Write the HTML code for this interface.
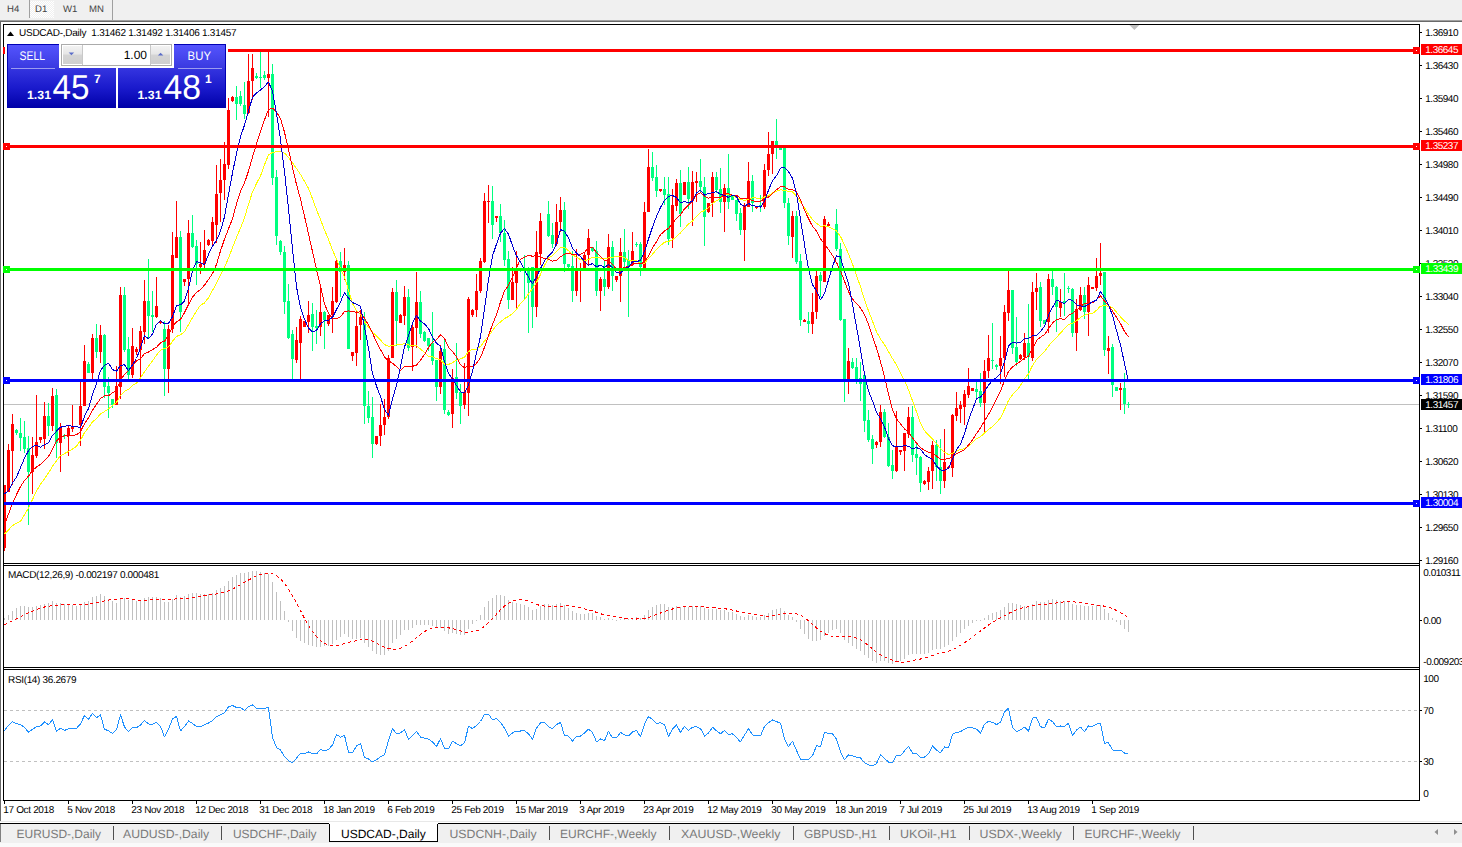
<!DOCTYPE html>
<html><head><meta charset="utf-8"><title>USDCAD-,Daily</title>
<style>
html,body{margin:0;padding:0;background:#fff;overflow:hidden;}
body{width:1462px;height:847px;font-family:"Liberation Sans",sans-serif;}
svg{display:block;}
</style></head><body>
<svg width="1462" height="847" viewBox="0 0 1462 847" font-family="'Liberation Sans', sans-serif" shape-rendering="crispEdges" text-rendering="geometricPrecision">
<defs>
<linearGradient id="gbtn" x1="0" y1="0" x2="0" y2="1"><stop offset="0" stop-color="#5555ff"/><stop offset="1" stop-color="#3a3ae0"/></linearGradient>
<linearGradient id="gprice" x1="0" y1="0" x2="0" y2="1"><stop offset="0" stop-color="#3535e0"/><stop offset="0.5" stop-color="#1a1acc"/><stop offset="1" stop-color="#0000a8"/></linearGradient>
<linearGradient id="gspin" x1="0" y1="0" x2="0" y2="1"><stop offset="0" stop-color="#f2f2f2"/><stop offset="0.45" stop-color="#e6e6e6"/><stop offset="0.5" stop-color="#d4d4d4"/><stop offset="1" stop-color="#cfcfcf"/></linearGradient>
<pattern id="dots" width="2" height="2" patternUnits="userSpaceOnUse"><rect width="2" height="2" fill="#f0f0f0"/><rect width="1" height="1" fill="#ffffff"/><rect x="1" y="1" width="1" height="1" fill="#ffffff"/></pattern>
<clipPath id="cmain"><rect x="4" y="25" width="1415" height="538"/></clipPath>
</defs>
<rect x="0" y="0" width="1462" height="847" fill="#ffffff" />
<rect x="0" y="0" width="1462" height="20" fill="#f0f0f0" />
<rect x="0" y="20" width="1462" height="1" fill="#a0a0a0" />
<rect x="0" y="21" width="1462" height="1" fill="#696969" />
<rect x="30" y="1" width="24" height="17" fill="url(#dots)" />
<rect x="29" y="0" width="1" height="18" fill="#a0a0a0" />
<rect x="112" y="0" width="1" height="20" fill="#a0a0a0" />
<text x="7" y="12" font-size="9.6" fill="#444" text-anchor="start" font-weight="normal" >H4</text>
<text x="35" y="12" font-size="9.6" fill="#444" text-anchor="start" font-weight="normal" >D1</text>
<text x="63" y="12" font-size="9.6" fill="#444" text-anchor="start" font-weight="normal" >W1</text>
<text x="89" y="12" font-size="9.6" fill="#444" text-anchor="start" font-weight="normal" >MN</text>
<rect x="0" y="22" width="1" height="799" fill="#696969" />
<rect x="3" y="24" width="1417" height="1" fill="#000" />
<rect x="3" y="24" width="1" height="777" fill="#000" />
<rect x="1419" y="24" width="1" height="777" fill="#000" />
<rect x="3" y="563" width="1417" height="1" fill="#000" />
<rect x="3" y="565" width="1417" height="1" fill="#000" />
<rect x="3" y="667" width="1417" height="1" fill="#000" />
<rect x="3" y="669" width="1417" height="1" fill="#000" />
<rect x="3" y="800" width="1417" height="1" fill="#000" />
<rect x="4" y="564" width="1415" height="1" fill="#fff" />
<rect x="4" y="668" width="1415" height="1" fill="#fff" />
<polygon points="1129.4,25 1139.4,25 1134.4,30" fill="#c0c0c0" shape-rendering="auto"/>
<rect x="1420" y="32" width="2" height="1" fill="#000" />
<text x="1425.3" y="36" font-size="10" fill="#000" text-anchor="start" font-weight="normal" letter-spacing="-0.5" >1.36910</text>
<rect x="1420" y="65" width="2" height="1" fill="#000" />
<text x="1425.3" y="69" font-size="10" fill="#000" text-anchor="start" font-weight="normal" letter-spacing="-0.5" >1.36430</text>
<rect x="1420" y="98" width="2" height="1" fill="#000" />
<text x="1425.3" y="102" font-size="10" fill="#000" text-anchor="start" font-weight="normal" letter-spacing="-0.5" >1.35940</text>
<rect x="1420" y="131" width="2" height="1" fill="#000" />
<text x="1425.3" y="135" font-size="10" fill="#000" text-anchor="start" font-weight="normal" letter-spacing="-0.5" >1.35460</text>
<rect x="1420" y="164" width="2" height="1" fill="#000" />
<text x="1425.3" y="168" font-size="10" fill="#000" text-anchor="start" font-weight="normal" letter-spacing="-0.5" >1.34980</text>
<rect x="1420" y="197" width="2" height="1" fill="#000" />
<text x="1425.3" y="201" font-size="10" fill="#000" text-anchor="start" font-weight="normal" letter-spacing="-0.5" >1.34490</text>
<rect x="1420" y="230" width="2" height="1" fill="#000" />
<text x="1425.3" y="234" font-size="10" fill="#000" text-anchor="start" font-weight="normal" letter-spacing="-0.5" >1.34010</text>
<rect x="1420" y="263" width="2" height="1" fill="#000" />
<text x="1425.3" y="267" font-size="10" fill="#000" text-anchor="start" font-weight="normal" letter-spacing="-0.5" >1.33520</text>
<rect x="1420" y="296" width="2" height="1" fill="#000" />
<text x="1425.3" y="300" font-size="10" fill="#000" text-anchor="start" font-weight="normal" letter-spacing="-0.5" >1.33040</text>
<rect x="1420" y="329" width="2" height="1" fill="#000" />
<text x="1425.3" y="333" font-size="10" fill="#000" text-anchor="start" font-weight="normal" letter-spacing="-0.5" >1.32550</text>
<rect x="1420" y="362" width="2" height="1" fill="#000" />
<text x="1425.3" y="366" font-size="10" fill="#000" text-anchor="start" font-weight="normal" letter-spacing="-0.5" >1.32070</text>
<rect x="1420" y="395" width="2" height="1" fill="#000" />
<text x="1425.3" y="399" font-size="10" fill="#000" text-anchor="start" font-weight="normal" letter-spacing="-0.5" >1.31590</text>
<rect x="1420" y="428" width="2" height="1" fill="#000" />
<text x="1425.3" y="432" font-size="10" fill="#000" text-anchor="start" font-weight="normal" letter-spacing="-0.5" >1.31100</text>
<rect x="1420" y="461" width="2" height="1" fill="#000" />
<text x="1425.3" y="465" font-size="10" fill="#000" text-anchor="start" font-weight="normal" letter-spacing="-0.5" >1.30620</text>
<rect x="1420" y="494" width="2" height="1" fill="#000" />
<text x="1425.3" y="498" font-size="10" fill="#000" text-anchor="start" font-weight="normal" letter-spacing="-0.5" >1.30130</text>
<rect x="1420" y="527" width="2" height="1" fill="#000" />
<text x="1425.3" y="531" font-size="10" fill="#000" text-anchor="start" font-weight="normal" letter-spacing="-0.5" >1.29650</text>
<rect x="1420" y="560" width="2" height="1" fill="#000" />
<text x="1425.3" y="564" font-size="10" fill="#000" text-anchor="start" font-weight="normal" letter-spacing="-0.5" >1.29160</text>
<rect x="4" y="404" width="1415" height="1" fill="#c0c0c0" />
<g clip-path="url(#cmain)">
<rect x="4" y="485" width="1" height="66" fill="#ff0000"/>
<rect x="3" y="485" width="3" height="63" fill="#ff0000"/>
<rect x="8" y="444" width="1" height="48" fill="#ff0000"/>
<rect x="7" y="450" width="3" height="42" fill="#ff0000"/>
<rect x="12" y="414" width="1" height="71" fill="#ff0000"/>
<rect x="11" y="424" width="3" height="27" fill="#ff0000"/>
<rect x="16" y="429" width="1" height="6" fill="#00ff7f"/>
<rect x="15" y="430" width="3" height="3" fill="#00ff7f"/>
<rect x="20" y="418" width="1" height="33" fill="#00ff7f"/>
<rect x="19" y="433" width="3" height="5" fill="#00ff7f"/>
<rect x="24" y="421" width="1" height="32" fill="#00ff7f"/>
<rect x="23" y="437" width="3" height="12" fill="#00ff7f"/>
<rect x="28" y="436" width="1" height="89" fill="#00ff7f"/>
<rect x="27" y="448" width="3" height="24" fill="#00ff7f"/>
<rect x="32" y="437" width="1" height="57" fill="#ff0000"/>
<rect x="31" y="455" width="3" height="17" fill="#ff0000"/>
<rect x="36" y="395" width="1" height="63" fill="#ff0000"/>
<rect x="35" y="442" width="3" height="14" fill="#ff0000"/>
<rect x="40" y="437" width="1" height="6" fill="#ff0000"/>
<rect x="39" y="437" width="3" height="3" fill="#ff0000"/>
<rect x="44" y="402" width="1" height="47" fill="#ff0000"/>
<rect x="43" y="416" width="3" height="23" fill="#ff0000"/>
<rect x="48" y="403" width="1" height="33" fill="#00ff7f"/>
<rect x="47" y="416" width="3" height="10" fill="#00ff7f"/>
<rect x="52" y="388" width="1" height="43" fill="#ff0000"/>
<rect x="51" y="396" width="3" height="30" fill="#ff0000"/>
<rect x="56" y="389" width="1" height="69" fill="#00ff7f"/>
<rect x="55" y="395" width="3" height="48" fill="#00ff7f"/>
<rect x="60" y="423" width="1" height="49" fill="#ff0000"/>
<rect x="59" y="427" width="3" height="16" fill="#ff0000"/>
<rect x="64" y="434" width="1" height="5" fill="#00ff7f"/>
<rect x="63" y="435" width="3" height="1" fill="#00ff7f"/>
<rect x="68" y="425" width="1" height="31" fill="#ff0000"/>
<rect x="67" y="428" width="3" height="8" fill="#ff0000"/>
<rect x="72" y="405" width="1" height="27" fill="#ff0000"/>
<rect x="71" y="426" width="3" height="3" fill="#ff0000"/>
<rect x="76" y="426" width="1" height="1" fill="#ff0000"/>
<rect x="75" y="426" width="3" height="1" fill="#ff0000"/>
<rect x="80" y="380" width="1" height="66" fill="#ff0000"/>
<rect x="79" y="406" width="3" height="19" fill="#ff0000"/>
<rect x="84" y="345" width="1" height="61" fill="#ff0000"/>
<rect x="83" y="361" width="3" height="45" fill="#ff0000"/>
<rect x="88" y="362" width="1" height="11" fill="#00ff7f"/>
<rect x="87" y="364" width="3" height="9" fill="#00ff7f"/>
<rect x="92" y="334" width="1" height="45" fill="#ff0000"/>
<rect x="91" y="338" width="3" height="35" fill="#ff0000"/>
<rect x="96" y="324" width="1" height="34" fill="#00ff7f"/>
<rect x="95" y="338" width="3" height="14" fill="#00ff7f"/>
<rect x="100" y="325" width="1" height="38" fill="#ff0000"/>
<rect x="99" y="335" width="3" height="17" fill="#ff0000"/>
<rect x="104" y="334" width="1" height="64" fill="#00ff7f"/>
<rect x="103" y="335" width="3" height="52" fill="#00ff7f"/>
<rect x="108" y="377" width="1" height="41" fill="#00ff7f"/>
<rect x="107" y="386" width="3" height="7" fill="#00ff7f"/>
<rect x="112" y="399" width="1" height="9" fill="#00ff7f"/>
<rect x="111" y="399" width="3" height="6" fill="#00ff7f"/>
<rect x="116" y="366" width="1" height="39" fill="#ff0000"/>
<rect x="115" y="386" width="3" height="19" fill="#ff0000"/>
<rect x="120" y="287" width="1" height="112" fill="#ff0000"/>
<rect x="119" y="295" width="3" height="92" fill="#ff0000"/>
<rect x="124" y="287" width="1" height="65" fill="#00ff7f"/>
<rect x="123" y="295" width="3" height="55" fill="#00ff7f"/>
<rect x="128" y="337" width="1" height="42" fill="#00ff7f"/>
<rect x="127" y="349" width="3" height="26" fill="#00ff7f"/>
<rect x="132" y="328" width="1" height="50" fill="#ff0000"/>
<rect x="131" y="346" width="3" height="29" fill="#ff0000"/>
<rect x="136" y="347" width="1" height="8" fill="#ff0000"/>
<rect x="135" y="349" width="3" height="3" fill="#ff0000"/>
<rect x="140" y="326" width="1" height="53" fill="#ff0000"/>
<rect x="139" y="331" width="3" height="19" fill="#ff0000"/>
<rect x="144" y="280" width="1" height="64" fill="#ff0000"/>
<rect x="143" y="301" width="3" height="31" fill="#ff0000"/>
<rect x="148" y="259" width="1" height="80" fill="#00ff7f"/>
<rect x="147" y="301" width="3" height="15" fill="#00ff7f"/>
<rect x="152" y="291" width="1" height="41" fill="#00ff7f"/>
<rect x="151" y="315" width="3" height="2" fill="#00ff7f"/>
<rect x="156" y="277" width="1" height="41" fill="#ff0000"/>
<rect x="155" y="306" width="3" height="11" fill="#ff0000"/>
<rect x="160" y="321" width="1" height="3" fill="#ff0000"/>
<rect x="159" y="322" width="3" height="1" fill="#ff0000"/>
<rect x="164" y="321" width="1" height="75" fill="#00ff7f"/>
<rect x="163" y="329" width="3" height="40" fill="#00ff7f"/>
<rect x="168" y="325" width="1" height="68" fill="#ff0000"/>
<rect x="167" y="329" width="3" height="40" fill="#ff0000"/>
<rect x="172" y="232" width="1" height="101" fill="#ff0000"/>
<rect x="171" y="255" width="3" height="74" fill="#ff0000"/>
<rect x="176" y="201" width="1" height="57" fill="#ff0000"/>
<rect x="175" y="237" width="3" height="21" fill="#ff0000"/>
<rect x="180" y="231" width="1" height="101" fill="#00ff7f"/>
<rect x="179" y="237" width="3" height="75" fill="#00ff7f"/>
<rect x="184" y="279" width="1" height="7" fill="#ff0000"/>
<rect x="183" y="279" width="3" height="3" fill="#ff0000"/>
<rect x="188" y="220" width="1" height="85" fill="#ff0000"/>
<rect x="187" y="233" width="3" height="46" fill="#ff0000"/>
<rect x="192" y="215" width="1" height="33" fill="#00ff7f"/>
<rect x="191" y="233" width="3" height="14" fill="#00ff7f"/>
<rect x="196" y="240" width="1" height="45" fill="#00ff7f"/>
<rect x="195" y="246" width="3" height="18" fill="#00ff7f"/>
<rect x="200" y="242" width="1" height="32" fill="#ff0000"/>
<rect x="199" y="264" width="3" height="3" fill="#ff0000"/>
<rect x="204" y="230" width="1" height="38" fill="#ff0000"/>
<rect x="203" y="250" width="3" height="14" fill="#ff0000"/>
<rect x="208" y="239" width="1" height="7" fill="#ff0000"/>
<rect x="207" y="240" width="3" height="5" fill="#ff0000"/>
<rect x="212" y="217" width="1" height="29" fill="#ff0000"/>
<rect x="211" y="222" width="3" height="19" fill="#ff0000"/>
<rect x="216" y="165" width="1" height="78" fill="#ff0000"/>
<rect x="215" y="194" width="3" height="31" fill="#ff0000"/>
<rect x="220" y="159" width="1" height="63" fill="#ff0000"/>
<rect x="219" y="180" width="3" height="13" fill="#ff0000"/>
<rect x="224" y="142" width="1" height="58" fill="#ff0000"/>
<rect x="223" y="164" width="3" height="16" fill="#ff0000"/>
<rect x="228" y="98" width="1" height="71" fill="#ff0000"/>
<rect x="227" y="110" width="3" height="55" fill="#ff0000"/>
<rect x="232" y="96" width="1" height="6" fill="#ff0000"/>
<rect x="231" y="97" width="3" height="4" fill="#ff0000"/>
<rect x="236" y="86" width="1" height="34" fill="#00ff7f"/>
<rect x="235" y="97" width="3" height="7" fill="#00ff7f"/>
<rect x="240" y="91" width="1" height="15" fill="#00ff7f"/>
<rect x="239" y="96" width="3" height="8" fill="#00ff7f"/>
<rect x="244" y="82" width="1" height="37" fill="#00ff7f"/>
<rect x="243" y="105" width="3" height="9" fill="#00ff7f"/>
<rect x="248" y="54" width="1" height="60" fill="#ff0000"/>
<rect x="247" y="81" width="3" height="32" fill="#ff0000"/>
<rect x="252" y="54" width="1" height="46" fill="#ff0000"/>
<rect x="251" y="68" width="3" height="13" fill="#ff0000"/>
<rect x="256" y="73" width="1" height="6" fill="#00ff7f"/>
<rect x="255" y="76" width="3" height="2" fill="#00ff7f"/>
<rect x="260" y="52" width="1" height="36" fill="#00ff7f"/>
<rect x="259" y="77" width="3" height="1" fill="#00ff7f"/>
<rect x="264" y="71" width="1" height="9" fill="#00ff7f"/>
<rect x="263" y="75" width="3" height="3" fill="#00ff7f"/>
<rect x="268" y="52" width="1" height="65" fill="#ff0000"/>
<rect x="267" y="74" width="3" height="4" fill="#ff0000"/>
<rect x="272" y="64" width="1" height="121" fill="#00ff7f"/>
<rect x="271" y="74" width="3" height="104" fill="#00ff7f"/>
<rect x="276" y="170" width="1" height="75" fill="#00ff7f"/>
<rect x="275" y="177" width="3" height="59" fill="#00ff7f"/>
<rect x="280" y="240" width="1" height="15" fill="#00ff7f"/>
<rect x="279" y="241" width="3" height="11" fill="#00ff7f"/>
<rect x="284" y="246" width="1" height="68" fill="#00ff7f"/>
<rect x="283" y="252" width="3" height="50" fill="#00ff7f"/>
<rect x="288" y="284" width="1" height="55" fill="#00ff7f"/>
<rect x="287" y="301" width="3" height="37" fill="#00ff7f"/>
<rect x="292" y="330" width="1" height="49" fill="#00ff7f"/>
<rect x="291" y="334" width="3" height="25" fill="#00ff7f"/>
<rect x="296" y="327" width="1" height="36" fill="#ff0000"/>
<rect x="295" y="340" width="3" height="20" fill="#ff0000"/>
<rect x="300" y="316" width="1" height="63" fill="#ff0000"/>
<rect x="299" y="319" width="3" height="24" fill="#ff0000"/>
<rect x="304" y="321" width="1" height="6" fill="#ff0000"/>
<rect x="303" y="321" width="3" height="6" fill="#ff0000"/>
<rect x="308" y="301" width="1" height="32" fill="#ff0000"/>
<rect x="307" y="315" width="3" height="7" fill="#ff0000"/>
<rect x="312" y="303" width="1" height="48" fill="#00ff7f"/>
<rect x="311" y="314" width="3" height="13" fill="#00ff7f"/>
<rect x="316" y="310" width="1" height="34" fill="#00ff7f"/>
<rect x="315" y="326" width="3" height="2" fill="#00ff7f"/>
<rect x="320" y="288" width="1" height="48" fill="#ff0000"/>
<rect x="319" y="312" width="3" height="15" fill="#ff0000"/>
<rect x="324" y="311" width="1" height="38" fill="#00ff7f"/>
<rect x="323" y="312" width="3" height="8" fill="#00ff7f"/>
<rect x="328" y="315" width="1" height="11" fill="#ff0000"/>
<rect x="327" y="315" width="3" height="9" fill="#ff0000"/>
<rect x="332" y="287" width="1" height="46" fill="#ff0000"/>
<rect x="331" y="301" width="3" height="14" fill="#ff0000"/>
<rect x="336" y="260" width="1" height="43" fill="#ff0000"/>
<rect x="335" y="261" width="3" height="41" fill="#ff0000"/>
<rect x="340" y="252" width="1" height="45" fill="#00ff7f"/>
<rect x="339" y="261" width="3" height="11" fill="#00ff7f"/>
<rect x="344" y="248" width="1" height="32" fill="#ff0000"/>
<rect x="343" y="265" width="3" height="7" fill="#ff0000"/>
<rect x="348" y="261" width="1" height="88" fill="#00ff7f"/>
<rect x="347" y="265" width="3" height="84" fill="#00ff7f"/>
<rect x="352" y="352" width="1" height="9" fill="#ff0000"/>
<rect x="351" y="352" width="3" height="4" fill="#ff0000"/>
<rect x="356" y="310" width="1" height="56" fill="#ff0000"/>
<rect x="355" y="326" width="3" height="27" fill="#ff0000"/>
<rect x="360" y="310" width="1" height="30" fill="#ff0000"/>
<rect x="359" y="317" width="3" height="8" fill="#ff0000"/>
<rect x="364" y="312" width="1" height="112" fill="#00ff7f"/>
<rect x="363" y="319" width="3" height="87" fill="#00ff7f"/>
<rect x="368" y="391" width="1" height="32" fill="#00ff7f"/>
<rect x="367" y="406" width="3" height="12" fill="#00ff7f"/>
<rect x="372" y="397" width="1" height="61" fill="#00ff7f"/>
<rect x="371" y="417" width="3" height="27" fill="#00ff7f"/>
<rect x="376" y="436" width="1" height="9" fill="#ff0000"/>
<rect x="375" y="436" width="3" height="8" fill="#ff0000"/>
<rect x="380" y="404" width="1" height="42" fill="#ff0000"/>
<rect x="379" y="425" width="3" height="11" fill="#ff0000"/>
<rect x="384" y="399" width="1" height="36" fill="#ff0000"/>
<rect x="383" y="417" width="3" height="8" fill="#ff0000"/>
<rect x="388" y="355" width="1" height="64" fill="#ff0000"/>
<rect x="387" y="358" width="3" height="59" fill="#ff0000"/>
<rect x="392" y="288" width="1" height="70" fill="#ff0000"/>
<rect x="391" y="292" width="3" height="66" fill="#ff0000"/>
<rect x="396" y="280" width="1" height="66" fill="#00ff7f"/>
<rect x="395" y="292" width="3" height="29" fill="#00ff7f"/>
<rect x="400" y="314" width="1" height="9" fill="#ff0000"/>
<rect x="399" y="315" width="3" height="8" fill="#ff0000"/>
<rect x="404" y="286" width="1" height="39" fill="#ff0000"/>
<rect x="403" y="297" width="3" height="19" fill="#ff0000"/>
<rect x="408" y="289" width="1" height="62" fill="#00ff7f"/>
<rect x="407" y="297" width="3" height="51" fill="#00ff7f"/>
<rect x="412" y="323" width="1" height="48" fill="#ff0000"/>
<rect x="411" y="327" width="3" height="20" fill="#ff0000"/>
<rect x="416" y="272" width="1" height="76" fill="#ff0000"/>
<rect x="415" y="302" width="3" height="26" fill="#ff0000"/>
<rect x="420" y="291" width="1" height="47" fill="#00ff7f"/>
<rect x="419" y="302" width="3" height="32" fill="#00ff7f"/>
<rect x="424" y="331" width="1" height="11" fill="#00ff7f"/>
<rect x="423" y="332" width="3" height="9" fill="#00ff7f"/>
<rect x="428" y="338" width="1" height="13" fill="#00ff7f"/>
<rect x="427" y="338" width="3" height="8" fill="#00ff7f"/>
<rect x="432" y="312" width="1" height="53" fill="#00ff7f"/>
<rect x="431" y="343" width="3" height="18" fill="#00ff7f"/>
<rect x="436" y="360" width="1" height="41" fill="#00ff7f"/>
<rect x="435" y="360" width="3" height="27" fill="#00ff7f"/>
<rect x="440" y="345" width="1" height="49" fill="#ff0000"/>
<rect x="439" y="351" width="3" height="36" fill="#ff0000"/>
<rect x="444" y="339" width="1" height="75" fill="#00ff7f"/>
<rect x="443" y="349" width="3" height="61" fill="#00ff7f"/>
<rect x="448" y="410" width="1" height="6" fill="#00ff7f"/>
<rect x="447" y="412" width="3" height="3" fill="#00ff7f"/>
<rect x="452" y="369" width="1" height="59" fill="#ff0000"/>
<rect x="451" y="378" width="3" height="36" fill="#ff0000"/>
<rect x="456" y="343" width="1" height="56" fill="#00ff7f"/>
<rect x="455" y="377" width="3" height="16" fill="#00ff7f"/>
<rect x="460" y="384" width="1" height="40" fill="#00ff7f"/>
<rect x="459" y="392" width="3" height="14" fill="#00ff7f"/>
<rect x="464" y="363" width="1" height="46" fill="#ff0000"/>
<rect x="463" y="392" width="3" height="13" fill="#ff0000"/>
<rect x="468" y="297" width="1" height="119" fill="#ff0000"/>
<rect x="467" y="299" width="3" height="94" fill="#ff0000"/>
<rect x="472" y="309" width="1" height="8" fill="#ff0000"/>
<rect x="471" y="310" width="3" height="5" fill="#ff0000"/>
<rect x="476" y="274" width="1" height="43" fill="#ff0000"/>
<rect x="475" y="291" width="3" height="19" fill="#ff0000"/>
<rect x="480" y="258" width="1" height="35" fill="#ff0000"/>
<rect x="479" y="261" width="3" height="30" fill="#ff0000"/>
<rect x="484" y="193" width="1" height="70" fill="#ff0000"/>
<rect x="483" y="201" width="3" height="61" fill="#ff0000"/>
<rect x="488" y="185" width="1" height="38" fill="#ff0000"/>
<rect x="487" y="201" width="3" height="1" fill="#ff0000"/>
<rect x="492" y="186" width="1" height="53" fill="#00ff7f"/>
<rect x="491" y="201" width="3" height="24" fill="#00ff7f"/>
<rect x="496" y="216" width="1" height="6" fill="#ff0000"/>
<rect x="495" y="216" width="3" height="2" fill="#ff0000"/>
<rect x="500" y="204" width="1" height="38" fill="#00ff7f"/>
<rect x="499" y="216" width="3" height="17" fill="#00ff7f"/>
<rect x="504" y="220" width="1" height="46" fill="#00ff7f"/>
<rect x="503" y="233" width="3" height="27" fill="#00ff7f"/>
<rect x="508" y="251" width="1" height="58" fill="#00ff7f"/>
<rect x="507" y="259" width="3" height="41" fill="#00ff7f"/>
<rect x="512" y="267" width="1" height="33" fill="#ff0000"/>
<rect x="511" y="282" width="3" height="18" fill="#ff0000"/>
<rect x="516" y="251" width="1" height="57" fill="#ff0000"/>
<rect x="515" y="271" width="3" height="12" fill="#ff0000"/>
<rect x="520" y="269" width="1" height="3" fill="#00ff7f"/>
<rect x="519" y="270" width="3" height="1" fill="#00ff7f"/>
<rect x="524" y="255" width="1" height="44" fill="#00ff7f"/>
<rect x="523" y="268" width="3" height="2" fill="#00ff7f"/>
<rect x="528" y="267" width="1" height="66" fill="#00ff7f"/>
<rect x="527" y="270" width="3" height="13" fill="#00ff7f"/>
<rect x="532" y="267" width="1" height="61" fill="#00ff7f"/>
<rect x="531" y="267" width="3" height="40" fill="#00ff7f"/>
<rect x="536" y="231" width="1" height="86" fill="#ff0000"/>
<rect x="535" y="252" width="3" height="55" fill="#ff0000"/>
<rect x="540" y="213" width="1" height="52" fill="#ff0000"/>
<rect x="539" y="221" width="3" height="33" fill="#ff0000"/>
<rect x="548" y="201" width="1" height="36" fill="#00ff7f"/>
<rect x="547" y="214" width="3" height="22" fill="#00ff7f"/>
<rect x="552" y="223" width="1" height="25" fill="#00ff7f"/>
<rect x="551" y="235" width="3" height="9" fill="#00ff7f"/>
<rect x="556" y="204" width="1" height="42" fill="#ff0000"/>
<rect x="555" y="222" width="3" height="22" fill="#ff0000"/>
<rect x="560" y="197" width="1" height="35" fill="#ff0000"/>
<rect x="559" y="210" width="3" height="12" fill="#ff0000"/>
<rect x="564" y="202" width="1" height="70" fill="#00ff7f"/>
<rect x="563" y="210" width="3" height="54" fill="#00ff7f"/>
<rect x="568" y="264" width="1" height="4" fill="#00ff7f"/>
<rect x="567" y="264" width="3" height="3" fill="#00ff7f"/>
<rect x="572" y="251" width="1" height="51" fill="#00ff7f"/>
<rect x="571" y="266" width="3" height="25" fill="#00ff7f"/>
<rect x="576" y="249" width="1" height="47" fill="#ff0000"/>
<rect x="575" y="270" width="3" height="21" fill="#ff0000"/>
<rect x="580" y="263" width="1" height="39" fill="#ff0000"/>
<rect x="579" y="269" width="3" height="2" fill="#ff0000"/>
<rect x="584" y="253" width="1" height="16" fill="#ff0000"/>
<rect x="583" y="255" width="3" height="13" fill="#ff0000"/>
<rect x="588" y="229" width="1" height="37" fill="#ff0000"/>
<rect x="587" y="238" width="3" height="17" fill="#ff0000"/>
<rect x="592" y="247" width="1" height="5" fill="#00ff7f"/>
<rect x="591" y="247" width="3" height="4" fill="#00ff7f"/>
<rect x="596" y="241" width="1" height="55" fill="#00ff7f"/>
<rect x="595" y="251" width="3" height="40" fill="#00ff7f"/>
<rect x="600" y="277" width="1" height="34" fill="#ff0000"/>
<rect x="599" y="279" width="3" height="12" fill="#ff0000"/>
<rect x="604" y="260" width="1" height="36" fill="#00ff7f"/>
<rect x="603" y="279" width="3" height="8" fill="#00ff7f"/>
<rect x="608" y="234" width="1" height="55" fill="#ff0000"/>
<rect x="607" y="247" width="3" height="40" fill="#ff0000"/>
<rect x="612" y="241" width="1" height="50" fill="#00ff7f"/>
<rect x="611" y="247" width="3" height="29" fill="#00ff7f"/>
<rect x="616" y="276" width="1" height="6" fill="#ff0000"/>
<rect x="615" y="276" width="3" height="4" fill="#ff0000"/>
<rect x="620" y="238" width="1" height="64" fill="#ff0000"/>
<rect x="619" y="252" width="3" height="24" fill="#ff0000"/>
<rect x="624" y="229" width="1" height="40" fill="#00ff7f"/>
<rect x="623" y="252" width="3" height="10" fill="#00ff7f"/>
<rect x="628" y="250" width="1" height="67" fill="#00ff7f"/>
<rect x="627" y="260" width="3" height="6" fill="#00ff7f"/>
<rect x="632" y="232" width="1" height="34" fill="#ff0000"/>
<rect x="631" y="251" width="3" height="14" fill="#ff0000"/>
<rect x="636" y="242" width="1" height="5" fill="#00ff7f"/>
<rect x="635" y="244" width="3" height="1" fill="#00ff7f"/>
<rect x="640" y="242" width="1" height="34" fill="#00ff7f"/>
<rect x="639" y="244" width="3" height="23" fill="#00ff7f"/>
<rect x="644" y="202" width="1" height="68" fill="#ff0000"/>
<rect x="643" y="212" width="3" height="58" fill="#ff0000"/>
<rect x="648" y="149" width="1" height="63" fill="#ff0000"/>
<rect x="647" y="167" width="3" height="45" fill="#ff0000"/>
<rect x="652" y="152" width="1" height="29" fill="#00ff7f"/>
<rect x="651" y="167" width="3" height="11" fill="#00ff7f"/>
<rect x="656" y="165" width="1" height="32" fill="#00ff7f"/>
<rect x="655" y="177" width="3" height="14" fill="#00ff7f"/>
<rect x="660" y="189" width="1" height="3" fill="#ff0000"/>
<rect x="659" y="189" width="3" height="2" fill="#ff0000"/>
<rect x="664" y="177" width="1" height="28" fill="#00ff7f"/>
<rect x="663" y="189" width="3" height="6" fill="#00ff7f"/>
<rect x="668" y="177" width="1" height="68" fill="#00ff7f"/>
<rect x="667" y="194" width="3" height="45" fill="#00ff7f"/>
<rect x="672" y="189" width="1" height="59" fill="#ff0000"/>
<rect x="671" y="205" width="3" height="33" fill="#ff0000"/>
<rect x="676" y="179" width="1" height="32" fill="#ff0000"/>
<rect x="675" y="183" width="3" height="23" fill="#ff0000"/>
<rect x="680" y="170" width="1" height="57" fill="#00ff7f"/>
<rect x="679" y="183" width="3" height="31" fill="#00ff7f"/>
<rect x="684" y="182" width="1" height="13" fill="#ff0000"/>
<rect x="683" y="182" width="3" height="13" fill="#ff0000"/>
<rect x="688" y="167" width="1" height="42" fill="#00ff7f"/>
<rect x="687" y="182" width="3" height="17" fill="#00ff7f"/>
<rect x="692" y="171" width="1" height="55" fill="#ff0000"/>
<rect x="691" y="182" width="3" height="19" fill="#ff0000"/>
<rect x="696" y="172" width="1" height="30" fill="#ff0000"/>
<rect x="695" y="181" width="3" height="2" fill="#ff0000"/>
<rect x="700" y="159" width="1" height="34" fill="#00ff7f"/>
<rect x="699" y="181" width="3" height="6" fill="#00ff7f"/>
<rect x="704" y="177" width="1" height="69" fill="#00ff7f"/>
<rect x="703" y="187" width="3" height="30" fill="#00ff7f"/>
<rect x="708" y="203" width="1" height="10" fill="#ff0000"/>
<rect x="707" y="203" width="3" height="9" fill="#ff0000"/>
<rect x="712" y="172" width="1" height="45" fill="#ff0000"/>
<rect x="711" y="177" width="3" height="26" fill="#ff0000"/>
<rect x="716" y="172" width="1" height="21" fill="#00ff7f"/>
<rect x="715" y="177" width="3" height="13" fill="#00ff7f"/>
<rect x="720" y="168" width="1" height="45" fill="#00ff7f"/>
<rect x="719" y="189" width="3" height="13" fill="#00ff7f"/>
<rect x="724" y="184" width="1" height="48" fill="#ff0000"/>
<rect x="723" y="188" width="3" height="14" fill="#ff0000"/>
<rect x="728" y="154" width="1" height="55" fill="#00ff7f"/>
<rect x="727" y="188" width="3" height="14" fill="#00ff7f"/>
<rect x="732" y="195" width="1" height="5" fill="#00ff7f"/>
<rect x="731" y="195" width="3" height="5" fill="#00ff7f"/>
<rect x="736" y="200" width="1" height="21" fill="#00ff7f"/>
<rect x="735" y="200" width="3" height="14" fill="#00ff7f"/>
<rect x="740" y="208" width="1" height="27" fill="#00ff7f"/>
<rect x="739" y="213" width="3" height="17" fill="#00ff7f"/>
<rect x="744" y="203" width="1" height="58" fill="#ff0000"/>
<rect x="743" y="206" width="3" height="24" fill="#ff0000"/>
<rect x="748" y="162" width="1" height="45" fill="#ff0000"/>
<rect x="747" y="181" width="3" height="26" fill="#ff0000"/>
<rect x="752" y="175" width="1" height="37" fill="#00ff7f"/>
<rect x="751" y="181" width="3" height="22" fill="#00ff7f"/>
<rect x="756" y="206" width="1" height="3" fill="#ff0000"/>
<rect x="755" y="206" width="3" height="2" fill="#ff0000"/>
<rect x="760" y="195" width="1" height="17" fill="#00ff7f"/>
<rect x="759" y="205" width="3" height="2" fill="#00ff7f"/>
<rect x="764" y="164" width="1" height="45" fill="#ff0000"/>
<rect x="763" y="170" width="3" height="37" fill="#ff0000"/>
<rect x="768" y="132" width="1" height="44" fill="#ff0000"/>
<rect x="767" y="154" width="3" height="16" fill="#ff0000"/>
<rect x="772" y="141" width="1" height="33" fill="#ff0000"/>
<rect x="771" y="141" width="3" height="13" fill="#ff0000"/>
<rect x="776" y="119" width="1" height="40" fill="#00ff7f"/>
<rect x="775" y="141" width="3" height="4" fill="#00ff7f"/>
<rect x="780" y="148" width="1" height="2" fill="#00ff7f"/>
<rect x="779" y="148" width="3" height="2" fill="#00ff7f"/>
<rect x="784" y="148" width="1" height="60" fill="#00ff7f"/>
<rect x="783" y="148" width="3" height="55" fill="#00ff7f"/>
<rect x="788" y="198" width="1" height="47" fill="#00ff7f"/>
<rect x="787" y="203" width="3" height="33" fill="#00ff7f"/>
<rect x="792" y="211" width="1" height="47" fill="#ff0000"/>
<rect x="791" y="216" width="3" height="21" fill="#ff0000"/>
<rect x="796" y="211" width="1" height="53" fill="#00ff7f"/>
<rect x="795" y="216" width="3" height="46" fill="#00ff7f"/>
<rect x="800" y="254" width="1" height="72" fill="#00ff7f"/>
<rect x="799" y="261" width="3" height="59" fill="#00ff7f"/>
<rect x="804" y="319" width="1" height="3" fill="#ff0000"/>
<rect x="803" y="320" width="3" height="2" fill="#ff0000"/>
<rect x="808" y="312" width="1" height="21" fill="#00ff7f"/>
<rect x="807" y="321" width="3" height="3" fill="#00ff7f"/>
<rect x="812" y="293" width="1" height="41" fill="#ff0000"/>
<rect x="811" y="312" width="3" height="12" fill="#ff0000"/>
<rect x="816" y="271" width="1" height="48" fill="#ff0000"/>
<rect x="815" y="276" width="3" height="36" fill="#ff0000"/>
<rect x="820" y="272" width="1" height="25" fill="#00ff7f"/>
<rect x="819" y="275" width="3" height="6" fill="#00ff7f"/>
<rect x="824" y="216" width="1" height="66" fill="#ff0000"/>
<rect x="823" y="219" width="3" height="63" fill="#ff0000"/>
<rect x="828" y="222" width="1" height="4" fill="#ff0000"/>
<rect x="827" y="224" width="3" height="2" fill="#ff0000"/>
<rect x="836" y="209" width="1" height="42" fill="#00ff7f"/>
<rect x="835" y="224" width="3" height="25" fill="#00ff7f"/>
<rect x="840" y="243" width="1" height="78" fill="#00ff7f"/>
<rect x="839" y="249" width="3" height="71" fill="#00ff7f"/>
<rect x="844" y="319" width="1" height="83" fill="#00ff7f"/>
<rect x="843" y="319" width="3" height="62" fill="#00ff7f"/>
<rect x="848" y="348" width="1" height="46" fill="#ff0000"/>
<rect x="847" y="361" width="3" height="19" fill="#ff0000"/>
<rect x="852" y="358" width="1" height="11" fill="#00ff7f"/>
<rect x="851" y="362" width="3" height="6" fill="#00ff7f"/>
<rect x="856" y="358" width="1" height="26" fill="#00ff7f"/>
<rect x="855" y="367" width="3" height="12" fill="#00ff7f"/>
<rect x="860" y="362" width="1" height="39" fill="#00ff7f"/>
<rect x="859" y="378" width="3" height="6" fill="#00ff7f"/>
<rect x="864" y="375" width="1" height="57" fill="#00ff7f"/>
<rect x="863" y="375" width="3" height="46" fill="#00ff7f"/>
<rect x="868" y="410" width="1" height="32" fill="#00ff7f"/>
<rect x="867" y="420" width="3" height="20" fill="#00ff7f"/>
<rect x="872" y="435" width="1" height="29" fill="#00ff7f"/>
<rect x="871" y="439" width="3" height="10" fill="#00ff7f"/>
<rect x="876" y="441" width="1" height="7" fill="#ff0000"/>
<rect x="875" y="442" width="3" height="3" fill="#ff0000"/>
<rect x="880" y="405" width="1" height="42" fill="#ff0000"/>
<rect x="879" y="412" width="3" height="30" fill="#ff0000"/>
<rect x="884" y="409" width="1" height="29" fill="#00ff7f"/>
<rect x="883" y="412" width="3" height="25" fill="#00ff7f"/>
<rect x="888" y="423" width="1" height="44" fill="#00ff7f"/>
<rect x="887" y="437" width="3" height="29" fill="#00ff7f"/>
<rect x="892" y="450" width="1" height="29" fill="#00ff7f"/>
<rect x="891" y="465" width="3" height="6" fill="#00ff7f"/>
<rect x="896" y="411" width="1" height="61" fill="#ff0000"/>
<rect x="895" y="446" width="3" height="25" fill="#ff0000"/>
<rect x="900" y="450" width="1" height="5" fill="#ff0000"/>
<rect x="899" y="450" width="3" height="2" fill="#ff0000"/>
<rect x="904" y="433" width="1" height="38" fill="#ff0000"/>
<rect x="903" y="433" width="3" height="18" fill="#ff0000"/>
<rect x="908" y="407" width="1" height="31" fill="#ff0000"/>
<rect x="907" y="417" width="3" height="17" fill="#ff0000"/>
<rect x="912" y="406" width="1" height="56" fill="#00ff7f"/>
<rect x="911" y="417" width="3" height="38" fill="#00ff7f"/>
<rect x="916" y="443" width="1" height="32" fill="#00ff7f"/>
<rect x="915" y="454" width="3" height="4" fill="#00ff7f"/>
<rect x="920" y="456" width="1" height="36" fill="#00ff7f"/>
<rect x="919" y="457" width="3" height="26" fill="#00ff7f"/>
<rect x="924" y="480" width="1" height="5" fill="#ff0000"/>
<rect x="923" y="481" width="3" height="3" fill="#ff0000"/>
<rect x="928" y="467" width="1" height="23" fill="#ff0000"/>
<rect x="927" y="471" width="3" height="11" fill="#ff0000"/>
<rect x="932" y="441" width="1" height="48" fill="#ff0000"/>
<rect x="931" y="445" width="3" height="26" fill="#ff0000"/>
<rect x="936" y="440" width="1" height="41" fill="#00ff7f"/>
<rect x="935" y="445" width="3" height="22" fill="#00ff7f"/>
<rect x="940" y="439" width="1" height="55" fill="#00ff7f"/>
<rect x="939" y="467" width="3" height="14" fill="#00ff7f"/>
<rect x="944" y="429" width="1" height="59" fill="#ff0000"/>
<rect x="943" y="462" width="3" height="19" fill="#ff0000"/>
<rect x="948" y="466" width="1" height="2" fill="#ff0000"/>
<rect x="947" y="467" width="3" height="1" fill="#ff0000"/>
<rect x="952" y="414" width="1" height="63" fill="#ff0000"/>
<rect x="951" y="415" width="3" height="53" fill="#ff0000"/>
<rect x="956" y="392" width="1" height="29" fill="#ff0000"/>
<rect x="955" y="408" width="3" height="8" fill="#ff0000"/>
<rect x="960" y="401" width="1" height="22" fill="#ff0000"/>
<rect x="959" y="405" width="3" height="4" fill="#ff0000"/>
<rect x="964" y="390" width="1" height="35" fill="#ff0000"/>
<rect x="963" y="394" width="3" height="13" fill="#ff0000"/>
<rect x="968" y="368" width="1" height="30" fill="#ff0000"/>
<rect x="967" y="386" width="3" height="9" fill="#ff0000"/>
<rect x="972" y="388" width="1" height="3" fill="#ff0000"/>
<rect x="971" y="388" width="3" height="3" fill="#ff0000"/>
<rect x="976" y="382" width="1" height="16" fill="#00ff7f"/>
<rect x="975" y="389" width="3" height="3" fill="#00ff7f"/>
<rect x="980" y="373" width="1" height="34" fill="#00ff7f"/>
<rect x="979" y="391" width="3" height="12" fill="#00ff7f"/>
<rect x="984" y="360" width="1" height="72" fill="#ff0000"/>
<rect x="983" y="371" width="3" height="32" fill="#ff0000"/>
<rect x="988" y="335" width="1" height="43" fill="#ff0000"/>
<rect x="987" y="358" width="3" height="13" fill="#ff0000"/>
<rect x="992" y="323" width="1" height="46" fill="#00ff7f"/>
<rect x="991" y="360" width="3" height="1" fill="#00ff7f"/>
<rect x="996" y="364" width="1" height="6" fill="#00ff7f"/>
<rect x="995" y="365" width="3" height="2" fill="#00ff7f"/>
<rect x="1000" y="336" width="1" height="48" fill="#ff0000"/>
<rect x="999" y="358" width="3" height="8" fill="#ff0000"/>
<rect x="1004" y="305" width="1" height="72" fill="#ff0000"/>
<rect x="1003" y="312" width="3" height="46" fill="#ff0000"/>
<rect x="1008" y="271" width="1" height="50" fill="#ff0000"/>
<rect x="1007" y="290" width="3" height="23" fill="#ff0000"/>
<rect x="1012" y="290" width="1" height="64" fill="#00ff7f"/>
<rect x="1011" y="290" width="3" height="58" fill="#00ff7f"/>
<rect x="1016" y="317" width="1" height="49" fill="#00ff7f"/>
<rect x="1015" y="347" width="3" height="15" fill="#00ff7f"/>
<rect x="1020" y="354" width="1" height="6" fill="#ff0000"/>
<rect x="1019" y="355" width="3" height="4" fill="#ff0000"/>
<rect x="1024" y="333" width="1" height="27" fill="#ff0000"/>
<rect x="1023" y="343" width="3" height="14" fill="#ff0000"/>
<rect x="1028" y="304" width="1" height="75" fill="#00ff7f"/>
<rect x="1027" y="343" width="3" height="14" fill="#00ff7f"/>
<rect x="1032" y="282" width="1" height="79" fill="#ff0000"/>
<rect x="1031" y="292" width="3" height="66" fill="#ff0000"/>
<rect x="1036" y="273" width="1" height="37" fill="#ff0000"/>
<rect x="1035" y="288" width="3" height="4" fill="#ff0000"/>
<rect x="1040" y="282" width="1" height="45" fill="#00ff7f"/>
<rect x="1039" y="287" width="3" height="34" fill="#00ff7f"/>
<rect x="1044" y="320" width="1" height="4" fill="#00ff7f"/>
<rect x="1043" y="320" width="3" height="4" fill="#00ff7f"/>
<rect x="1048" y="274" width="1" height="59" fill="#ff0000"/>
<rect x="1047" y="279" width="3" height="43" fill="#ff0000"/>
<rect x="1052" y="271" width="1" height="24" fill="#00ff7f"/>
<rect x="1051" y="279" width="3" height="8" fill="#00ff7f"/>
<rect x="1056" y="286" width="1" height="46" fill="#00ff7f"/>
<rect x="1055" y="287" width="3" height="20" fill="#00ff7f"/>
<rect x="1060" y="289" width="1" height="28" fill="#ff0000"/>
<rect x="1059" y="302" width="3" height="6" fill="#ff0000"/>
<rect x="1064" y="273" width="1" height="43" fill="#00ff7f"/>
<rect x="1063" y="301" width="3" height="2" fill="#00ff7f"/>
<rect x="1068" y="286" width="1" height="7" fill="#00ff7f"/>
<rect x="1067" y="288" width="3" height="1" fill="#00ff7f"/>
<rect x="1072" y="288" width="1" height="49" fill="#00ff7f"/>
<rect x="1071" y="289" width="3" height="44" fill="#00ff7f"/>
<rect x="1076" y="299" width="1" height="52" fill="#ff0000"/>
<rect x="1075" y="309" width="3" height="24" fill="#ff0000"/>
<rect x="1080" y="287" width="1" height="24" fill="#ff0000"/>
<rect x="1079" y="295" width="3" height="15" fill="#ff0000"/>
<rect x="1084" y="287" width="1" height="32" fill="#00ff7f"/>
<rect x="1083" y="295" width="3" height="17" fill="#00ff7f"/>
<rect x="1088" y="277" width="1" height="59" fill="#ff0000"/>
<rect x="1087" y="285" width="3" height="27" fill="#ff0000"/>
<rect x="1092" y="287" width="1" height="2" fill="#ff0000"/>
<rect x="1091" y="287" width="3" height="2" fill="#ff0000"/>
<rect x="1096" y="258" width="1" height="33" fill="#ff0000"/>
<rect x="1095" y="276" width="3" height="12" fill="#ff0000"/>
<rect x="1100" y="243" width="1" height="42" fill="#ff0000"/>
<rect x="1099" y="273" width="3" height="3" fill="#ff0000"/>
<rect x="1104" y="272" width="1" height="84" fill="#00ff7f"/>
<rect x="1103" y="272" width="3" height="78" fill="#00ff7f"/>
<rect x="1108" y="336" width="1" height="38" fill="#ff0000"/>
<rect x="1107" y="348" width="3" height="3" fill="#ff0000"/>
<rect x="1112" y="344" width="1" height="53" fill="#00ff7f"/>
<rect x="1111" y="347" width="3" height="38" fill="#00ff7f"/>
<rect x="1116" y="387" width="1" height="4" fill="#00ff7f"/>
<rect x="1115" y="387" width="3" height="4" fill="#00ff7f"/>
<rect x="1120" y="383" width="1" height="27" fill="#ff0000"/>
<rect x="1119" y="388" width="3" height="2" fill="#ff0000"/>
<rect x="1124" y="373" width="1" height="41" fill="#00ff7f"/>
<rect x="1123" y="388" width="3" height="16" fill="#00ff7f"/>
<rect x="1128" y="402" width="1" height="6" fill="#00ff7f"/>
<rect x="1127" y="404" width="3" height="1" fill="#00ff7f"/>
<polyline points="4.5,534.2 8.5,529.9 12.5,525.6 16.5,523.2 20.5,521.2 24.5,514.8 28.5,508.0 32.5,499.5 36.5,491.0 40.5,484.2 44.5,478.9 48.5,472.9 52.5,466.3 56.5,460.8 60.5,455.6 64.5,453.6 68.5,451.5 72.5,449.0 76.5,446.4 80.5,440.3 84.5,432.7 88.5,427.4 92.5,422.0 96.5,418.6 100.5,413.9 104.5,411.5 108.5,408.8 112.5,405.6 116.5,402.4 120.5,395.4 124.5,391.2 128.5,389.3 132.5,385.5 136.5,383.2 140.5,377.9 144.5,371.9 148.5,366.2 152.5,360.9 156.5,355.2 160.5,350.2 164.5,348.5 168.5,346.9 172.5,341.3 176.5,336.5 180.5,334.6 184.5,331.9 188.5,324.6 192.5,317.6 196.5,310.9 200.5,305.1 204.5,303.0 208.5,297.7 212.5,290.5 216.5,283.2 220.5,275.2 224.5,267.2 228.5,258.1 232.5,247.7 236.5,237.5 240.5,227.9 244.5,218.0 248.5,204.3 252.5,191.9 256.5,183.5 260.5,175.9 264.5,164.7 268.5,155.0 272.5,152.4 276.5,151.8 280.5,151.3 284.5,153.1 288.5,157.3 292.5,162.9 296.5,168.5 300.5,174.5 304.5,181.2 308.5,188.4 312.5,198.7 316.5,209.7 320.5,219.6 324.5,229.9 328.5,239.5 332.5,250.0 336.5,259.2 340.5,268.4 344.5,277.3 348.5,290.2 352.5,303.5 356.5,310.5 360.5,314.4 364.5,321.7 368.5,327.2 372.5,332.3 376.5,335.9 380.5,340.0 384.5,344.6 388.5,346.4 392.5,345.3 396.5,345.0 400.5,344.4 404.5,343.7 408.5,345.0 412.5,345.6 416.5,345.6 420.5,349.1 424.5,352.4 428.5,356.3 432.5,356.8 436.5,358.5 440.5,359.7 444.5,364.1 448.5,364.5 452.5,362.6 456.5,360.2 460.5,358.8 464.5,357.2 468.5,351.6 472.5,349.3 476.5,349.3 480.5,346.4 484.5,341.0 488.5,336.4 492.5,330.5 496.5,325.3 500.5,322.0 504.5,318.5 508.5,316.5 512.5,313.5 516.5,309.2 520.5,303.6 524.5,299.8 528.5,293.7 532.5,288.6 536.5,282.6 540.5,274.4 544.5,265.5 548.5,258.1 552.5,255.5 556.5,251.3 560.5,247.4 564.5,247.5 568.5,250.7 572.5,255.0 576.5,257.1 580.5,259.6 584.5,260.7 588.5,259.6 592.5,257.3 596.5,257.7 600.5,258.1 604.5,258.9 608.5,257.8 612.5,257.5 616.5,256.0 620.5,256.0 624.5,257.9 628.5,260.2 632.5,260.9 636.5,260.9 640.5,263.1 644.5,263.2 648.5,258.5 652.5,254.3 656.5,249.5 660.5,245.7 664.5,242.2 668.5,241.4 672.5,239.8 676.5,236.6 680.5,232.9 684.5,228.3 688.5,224.1 692.5,221.0 696.5,216.5 700.5,212.3 704.5,210.6 708.5,207.8 712.5,203.5 716.5,200.6 720.5,198.6 724.5,194.8 728.5,194.4 732.5,195.9 736.5,197.6 740.5,199.5 744.5,200.3 748.5,199.6 752.5,197.9 756.5,198.0 760.5,199.1 764.5,197.0 768.5,195.7 772.5,192.9 776.5,191.2 780.5,189.7 784.5,190.5 788.5,191.4 792.5,192.0 796.5,196.0 800.5,202.2 804.5,207.8 808.5,214.3 812.5,219.5 816.5,223.2 820.5,226.4 824.5,225.8 828.5,226.7 832.5,228.8 836.5,231.0 840.5,236.5 844.5,244.7 848.5,253.8 852.5,264.0 856.5,275.4 860.5,286.7 864.5,299.6 868.5,310.9 872.5,321.1 876.5,331.8 880.5,339.0 884.5,344.5 888.5,351.5 892.5,358.5 896.5,364.9 900.5,373.2 904.5,380.4 908.5,389.8 912.5,400.8 916.5,411.9 920.5,423.0 924.5,430.7 928.5,435.0 932.5,439.0 936.5,443.7 940.5,448.5 944.5,452.3 948.5,454.5 952.5,453.3 956.5,451.3 960.5,449.5 964.5,448.7 968.5,446.3 972.5,442.5 976.5,438.8 980.5,436.7 984.5,433.0 988.5,429.4 992.5,426.7 996.5,422.5 1000.5,417.8 1004.5,409.6 1008.5,400.5 1012.5,394.7 1016.5,390.7 1020.5,385.4 1024.5,378.8 1028.5,373.8 1032.5,365.5 1036.5,359.5 1040.5,355.3 1044.5,351.5 1048.5,346.0 1052.5,341.3 1056.5,337.4 1060.5,333.1 1064.5,328.4 1068.5,324.5 1072.5,323.3 1076.5,320.8 1080.5,317.4 1084.5,315.2 1088.5,313.9 1092.5,313.7 1096.5,310.3 1100.5,306.1 1104.5,305.8 1108.5,306.1 1112.5,307.4 1116.5,312.1 1120.5,316.9 1124.5,320.8 1128.5,324.7" fill="none" stroke="#ffff00" stroke-width="1" shape-rendering="crispEdges" stroke-linejoin="round" />
<polyline points="4.5,524.4 8.5,514.0 12.5,503.1 16.5,494.6 20.5,486.5 24.5,480.5 28.5,476.1 32.5,470.4 36.5,467.1 40.5,464.3 44.5,460.6 48.5,456.6 52.5,448.9 56.5,440.9 60.5,436.8 64.5,435.8 68.5,436.1 72.5,435.6 76.5,434.7 80.5,431.6 84.5,423.7 88.5,417.9 92.5,410.4 96.5,404.4 100.5,398.6 104.5,395.8 108.5,395.6 112.5,392.9 116.5,389.9 120.5,379.9 124.5,374.3 128.5,370.6 132.5,364.9 136.5,360.9 140.5,358.7 144.5,353.6 148.5,352.0 152.5,349.5 156.5,347.4 160.5,342.8 164.5,341.1 168.5,335.6 172.5,326.3 176.5,322.1 180.5,319.4 184.5,312.6 188.5,304.5 192.5,297.2 196.5,292.4 200.5,289.8 204.5,285.1 208.5,279.6 212.5,273.6 216.5,264.4 220.5,250.9 224.5,239.1 228.5,228.8 232.5,218.8 236.5,203.9 240.5,191.4 244.5,182.9 248.5,171.1 252.5,157.1 256.5,143.8 260.5,131.5 264.5,119.9 268.5,109.4 272.5,108.2 276.5,112.2 280.5,118.5 284.5,132.2 288.5,149.4 292.5,167.6 296.5,184.5 300.5,199.1 304.5,216.3 308.5,233.9 312.5,251.7 316.5,269.6 320.5,286.3 324.5,303.9 328.5,313.6 332.5,318.3 336.5,318.9 340.5,316.8 344.5,311.6 348.5,310.9 352.5,311.7 356.5,312.2 360.5,311.9 364.5,318.4 368.5,324.9 372.5,333.2 376.5,342.1 380.5,349.6 384.5,356.9 388.5,360.9 392.5,363.1 396.5,366.6 400.5,370.2 404.5,366.5 408.5,366.2 412.5,366.3 416.5,365.2 420.5,360.1 424.5,354.6 428.5,347.6 432.5,342.2 436.5,339.5 440.5,334.8 444.5,338.5 448.5,347.3 452.5,351.4 456.5,356.9 460.5,364.7 464.5,367.9 468.5,365.9 472.5,366.4 476.5,363.4 480.5,357.6 484.5,347.3 488.5,335.9 492.5,324.3 496.5,314.6 500.5,302.0 504.5,290.9 508.5,285.4 512.5,277.4 516.5,267.8 520.5,259.1 524.5,257.1 528.5,255.1 532.5,256.3 536.5,255.6 540.5,257.1 544.5,258.4 548.5,259.1 552.5,261.1 556.5,260.4 560.5,256.8 564.5,254.2 568.5,253.1 572.5,254.6 576.5,254.5 580.5,254.4 584.5,252.4 588.5,247.5 592.5,247.4 596.5,252.4 600.5,256.7 604.5,260.4 608.5,260.6 612.5,264.4 616.5,269.1 620.5,268.3 624.5,267.9 628.5,266.1 632.5,264.8 636.5,263.1 640.5,263.9 644.5,262.1 648.5,256.1 652.5,248.0 656.5,241.7 660.5,234.7 664.5,231.0 668.5,228.4 672.5,223.3 676.5,218.4 680.5,214.9 684.5,208.9 688.5,205.2 692.5,200.7 696.5,194.6 700.5,192.8 704.5,196.4 708.5,198.1 712.5,197.1 716.5,197.2 720.5,197.7 724.5,194.1 728.5,193.9 732.5,195.1 736.5,195.1 740.5,198.5 744.5,199.0 748.5,198.9 752.5,200.5 756.5,201.9 760.5,201.1 764.5,198.8 768.5,197.1 772.5,193.6 776.5,189.6 780.5,186.9 784.5,186.9 788.5,189.5 792.5,189.6 796.5,191.9 800.5,200.1 804.5,210.0 808.5,218.6 812.5,226.2 816.5,231.1 820.5,239.1 824.5,243.7 828.5,249.6 832.5,255.4 836.5,262.5 840.5,270.9 844.5,281.2 848.5,291.6 852.5,299.1 856.5,303.4 860.5,307.9 864.5,314.9 868.5,324.0 872.5,336.4 876.5,347.9 880.5,361.6 884.5,376.9 888.5,394.0 892.5,409.9 896.5,418.9 900.5,423.8 904.5,428.9 908.5,432.4 912.5,437.9 916.5,443.1 920.5,447.6 924.5,450.5 928.5,452.1 932.5,452.3 936.5,456.2 940.5,459.4 944.5,459.1 948.5,458.8 952.5,456.6 956.5,453.6 960.5,451.6 964.5,449.9 968.5,445.0 972.5,440.0 976.5,433.5 980.5,427.9 984.5,420.8 988.5,414.6 992.5,407.0 996.5,398.9 1000.5,391.4 1004.5,380.4 1008.5,371.4 1012.5,367.1 1016.5,364.1 1020.5,361.3 1024.5,358.2 1028.5,356.0 1032.5,348.9 1036.5,340.6 1040.5,337.1 1044.5,334.6 1048.5,328.8 1052.5,323.1 1056.5,319.4 1060.5,318.7 1064.5,319.6 1068.5,315.4 1072.5,313.4 1076.5,310.1 1080.5,306.6 1084.5,303.4 1088.5,302.9 1092.5,302.9 1096.5,299.6 1100.5,296.0 1104.5,301.1 1108.5,305.4 1112.5,311.0 1116.5,317.4 1120.5,323.4 1124.5,331.6 1128.5,336.8" fill="none" stroke="#ff0000" stroke-width="1" shape-rendering="crispEdges" stroke-linejoin="round" />
<polyline points="4.5,493.8 8.5,490.8 12.5,483.0 16.5,477.0 20.5,467.5 24.5,458.2 28.5,450.6 32.5,446.4 36.5,445.2 40.5,447.1 44.5,444.6 48.5,442.9 52.5,435.4 56.5,431.2 60.5,427.2 64.5,426.4 68.5,425.1 72.5,426.5 76.5,426.5 80.5,427.9 84.5,416.2 88.5,408.5 92.5,394.5 96.5,383.6 100.5,370.6 104.5,365.1 108.5,363.2 112.5,369.5 116.5,371.4 120.5,365.2 124.5,364.9 128.5,370.6 132.5,364.8 136.5,358.5 140.5,347.9 144.5,335.8 148.5,338.8 152.5,334.1 156.5,324.2 160.5,320.8 164.5,323.6 168.5,323.4 172.5,316.8 176.5,305.5 180.5,304.8 184.5,300.9 188.5,288.2 192.5,270.8 196.5,261.5 200.5,262.8 204.5,264.6 208.5,254.4 212.5,246.2 216.5,240.6 220.5,231.1 224.5,216.8 228.5,194.8 232.5,172.9 236.5,153.5 240.5,136.6 244.5,125.2 248.5,111.1 252.5,97.4 256.5,92.8 260.5,90.1 264.5,86.4 268.5,82.1 272.5,91.2 276.5,113.4 280.5,139.6 284.5,171.6 288.5,208.8 292.5,248.9 296.5,286.9 300.5,307.1 304.5,319.2 308.5,328.2 312.5,331.8 316.5,330.4 320.5,323.6 324.5,320.8 328.5,320.2 332.5,317.4 336.5,309.6 340.5,301.8 344.5,292.8 348.5,298.1 352.5,302.6 356.5,304.2 360.5,306.5 364.5,327.2 368.5,348.1 372.5,373.6 376.5,386.1 380.5,396.5 384.5,409.5 388.5,415.4 392.5,399.1 396.5,385.2 400.5,366.8 404.5,346.9 408.5,335.9 412.5,323.1 416.5,315.1 420.5,321.1 424.5,323.9 428.5,328.4 432.5,337.5 436.5,343.1 440.5,346.5 444.5,361.9 448.5,373.5 452.5,378.8 456.5,385.5 460.5,391.9 464.5,392.6 468.5,385.2 472.5,370.9 476.5,353.2 480.5,336.5 484.5,309.1 488.5,279.8 492.5,255.9 496.5,244.1 500.5,233.1 504.5,228.6 508.5,234.2 512.5,245.8 516.5,255.8 520.5,262.4 524.5,270.1 528.5,277.2 532.5,283.9 536.5,277.1 540.5,268.4 544.5,260.9 548.5,255.9 552.5,252.2 556.5,243.5 560.5,229.6 564.5,231.4 568.5,237.9 572.5,248.2 576.5,253.1 580.5,256.6 584.5,261.4 588.5,265.4 592.5,263.5 596.5,266.9 600.5,265.2 604.5,267.6 608.5,264.5 612.5,267.5 616.5,272.9 620.5,273.1 624.5,268.9 628.5,267.1 632.5,261.9 636.5,261.6 640.5,260.4 644.5,251.2 648.5,239.1 652.5,227.1 656.5,216.4 660.5,207.5 664.5,200.4 668.5,196.4 672.5,195.4 676.5,197.6 680.5,202.8 684.5,201.5 688.5,202.9 692.5,201.1 696.5,192.8 700.5,190.2 704.5,195.1 708.5,193.5 712.5,192.8 716.5,191.5 720.5,194.4 724.5,195.4 728.5,197.5 732.5,195.1 736.5,196.6 740.5,204.2 744.5,206.5 748.5,203.5 752.5,205.6 756.5,206.2 760.5,207.2 764.5,200.9 768.5,190.1 772.5,180.8 776.5,175.6 780.5,168.1 784.5,167.6 788.5,171.8 792.5,178.4 796.5,193.8 800.5,219.4 804.5,244.4 808.5,269.2 812.5,284.8 816.5,290.5 820.5,299.8 824.5,293.6 828.5,279.9 832.5,266.5 836.5,255.8 840.5,256.9 844.5,271.9 848.5,283.4 852.5,304.6 856.5,326.8 860.5,349.4 864.5,373.9 868.5,391.1 872.5,400.8 876.5,412.4 880.5,418.6 884.5,426.9 888.5,438.6 892.5,445.8 896.5,446.6 900.5,446.8 904.5,445.5 908.5,446.2 912.5,448.8 916.5,447.6 920.5,449.4 924.5,454.4 928.5,457.4 932.5,459.1 936.5,466.2 940.5,469.9 944.5,470.5 948.5,468.2 952.5,458.8 956.5,449.8 960.5,444.1 964.5,433.6 968.5,420.1 972.5,409.5 976.5,398.8 980.5,397.1 984.5,391.8 988.5,385.1 992.5,380.4 996.5,377.6 1000.5,373.4 1004.5,361.9 1008.5,345.8 1012.5,342.5 1016.5,343.1 1020.5,342.2 1024.5,338.8 1028.5,338.6 1032.5,335.8 1036.5,335.5 1040.5,331.6 1044.5,326.2 1048.5,315.4 1052.5,307.4 1056.5,300.2 1060.5,301.6 1064.5,303.8 1068.5,299.2 1072.5,300.5 1076.5,304.8 1080.5,305.9 1084.5,306.6 1088.5,304.2 1092.5,301.9 1096.5,300.1 1100.5,291.5 1104.5,297.4 1108.5,304.9 1112.5,315.4 1116.5,330.5 1120.5,344.9 1124.5,363.2 1128.5,382.1" fill="none" stroke="#0000d0" stroke-width="1" shape-rendering="crispEdges" stroke-linejoin="round" />
</g>
<!--LINES-->
<rect x="4" y="49" width="1415" height="3" fill="#ff0000" />
<rect x="1413" y="47" width="7" height="7" fill="#ff0000" />
<rect x="1416" y="50" width="1" height="1" fill="#fff" />
<rect x="3" y="47" width="7" height="7" fill="#ff0000" />
<rect x="6" y="50" width="1" height="1" fill="#fff" />
<rect x="1421" y="44" width="41" height="11" fill="#ff0000" />
<text x="1425.3" y="53" font-size="10" fill="#fff" text-anchor="start" font-weight="normal" letter-spacing="-0.5" >1.36645</text>
<rect x="4" y="145" width="1415" height="3" fill="#ff0000" />
<rect x="1413" y="143" width="7" height="7" fill="#ff0000" />
<rect x="1416" y="146" width="1" height="1" fill="#fff" />
<rect x="3" y="143" width="7" height="7" fill="#ff0000" />
<rect x="6" y="146" width="1" height="1" fill="#fff" />
<rect x="1421" y="140" width="41" height="11" fill="#ff0000" />
<text x="1425.3" y="149" font-size="10" fill="#fff" text-anchor="start" font-weight="normal" letter-spacing="-0.5" >1.35237</text>
<rect x="4" y="268" width="1415" height="3" fill="#00ff00" />
<rect x="1413" y="266" width="7" height="7" fill="#00ff00" />
<rect x="1416" y="269" width="1" height="1" fill="#fff" />
<rect x="3" y="266" width="7" height="7" fill="#00ff00" />
<rect x="6" y="269" width="1" height="1" fill="#fff" />
<rect x="1421" y="263" width="41" height="11" fill="#00ff00" />
<text x="1425.3" y="272" font-size="10" fill="#fff" text-anchor="start" font-weight="normal" letter-spacing="-0.5" >1.33439</text>
<rect x="4" y="379" width="1415" height="3" fill="#0000ff" />
<rect x="1413" y="377" width="7" height="7" fill="#0000ff" />
<rect x="1416" y="380" width="1" height="1" fill="#fff" />
<rect x="3" y="377" width="7" height="7" fill="#0000ff" />
<rect x="6" y="380" width="1" height="1" fill="#fff" />
<rect x="1421" y="374" width="41" height="11" fill="#0000ff" />
<text x="1425.3" y="383" font-size="10" fill="#fff" text-anchor="start" font-weight="normal" letter-spacing="-0.5" >1.31806</text>
<rect x="4" y="502" width="1415" height="3" fill="#0000ff" />
<rect x="1413" y="500" width="7" height="7" fill="#0000ff" />
<rect x="1416" y="503" width="1" height="1" fill="#fff" />
<rect x="1421" y="497" width="41" height="11" fill="#0000ff" />
<text x="1425.3" y="506" font-size="10" fill="#fff" text-anchor="start" font-weight="normal" letter-spacing="-0.5" >1.30004</text>
<rect x="1421" y="399" width="41" height="11" fill="#000" />
<text x="1425.3" y="408" font-size="10" fill="#fff" text-anchor="start" font-weight="normal" letter-spacing="-0.5" >1.31457</text>
<polygon points="7,36 14,36 10.5,31.5" fill="#000" shape-rendering="auto"/>
<text x="19" y="36" font-size="10" fill="#000" text-anchor="start" font-weight="normal" letter-spacing="-0.253" xml:space="preserve">USDCAD-,Daily&#160;&#160;1.31462 1.31492 1.31406 1.31457</text>
<rect x="5" y="42" width="223" height="68" fill="#ffffff" />
<rect x="7" y="44" width="52" height="24" fill="url(#gbtn)" />
<rect x="174" y="44" width="52" height="24" fill="url(#gbtn)" />
<rect x="7" y="68" width="109" height="40" fill="url(#gprice)" />
<rect x="118" y="68" width="108" height="40" fill="url(#gprice)" />
<rect x="7" y="44" width="52" height="1" fill="#0000b4" />
<rect x="7" y="44" width="1" height="64" fill="#0000b4" />
<rect x="174" y="44" width="52" height="1" fill="#0000b4" />
<rect x="225" y="44" width="1" height="64" fill="#0000b4" />
<rect x="11" y="68" width="44" height="1" fill="#9c9cf0" />
<rect x="178" y="68" width="44" height="1" fill="#9c9cf0" />
<text x="19.6" y="60" font-size="12.5" fill="#fff" text-anchor="start" font-weight="normal" textLength="25.4" lengthAdjust="spacingAndGlyphs">SELL</text>
<text x="187.6" y="60" font-size="12.5" fill="#fff" text-anchor="start" font-weight="normal" textLength="23.4" lengthAdjust="spacingAndGlyphs">BUY</text>
<rect x="61" y="44" width="111" height="22" fill="#ababab" />
<rect x="62" y="45" width="109" height="20" fill="#ffffff" />
<rect x="63" y="46" width="19" height="18" fill="url(#gspin)" />
<rect x="82" y="45" width="1" height="20" fill="#c8c8c8" />
<rect x="151" y="46" width="19" height="18" fill="url(#gspin)" />
<rect x="150" y="45" width="1" height="20" fill="#c8c8c8" />
<polygon points="68.7,52.5 74.1,52.5 71.4,55.3" fill="#5a6cc8" shape-rendering="auto"/>
<polygon points="157.9,55.5 163.3,55.5 160.6,52.7" fill="#5a6cc8" shape-rendering="auto"/>
<text x="147" y="59" font-size="12" fill="#000" text-anchor="end" font-weight="normal" >1.00</text>
<text x="27" y="99" font-size="12" fill="#fff" text-anchor="start" font-weight="bold" textLength="24" lengthAdjust="spacingAndGlyphs">1.31</text>
<text x="52.5" y="99" font-size="34.5" fill="#fff" text-anchor="start" font-weight="normal" textLength="37" lengthAdjust="spacingAndGlyphs">45</text>
<text x="94" y="83" font-size="12" fill="#fff" text-anchor="start" font-weight="bold" >7</text>
<text x="137.5" y="99" font-size="12" fill="#fff" text-anchor="start" font-weight="bold" textLength="24" lengthAdjust="spacingAndGlyphs">1.31</text>
<text x="163.5" y="99" font-size="34.5" fill="#fff" text-anchor="start" font-weight="normal" textLength="37.5" lengthAdjust="spacingAndGlyphs">48</text>
<text x="205" y="83" font-size="12" fill="#fff" text-anchor="start" font-weight="bold" >1</text>
<text x="8" y="578" font-size="10" fill="#000" text-anchor="start" font-weight="normal" letter-spacing="-0.34" >MACD(12,26,9) -0.002197 0.000481</text>
<text x="1423.3" y="576" font-size="10" fill="#000" text-anchor="start" font-weight="normal" letter-spacing="-0.5" >0.010311</text>
<text x="1423.3" y="624" font-size="10" fill="#000" text-anchor="start" font-weight="normal" letter-spacing="-0.5" >0.00</text>
<text x="1423.3" y="665" font-size="10" fill="#000" text-anchor="start" font-weight="normal" letter-spacing="-0.5" >-0.009203</text>
<rect x="1420" y="620" width="2" height="1" fill="#000" />
<rect x="4" y="618" width="1" height="2" fill="#c0c0c0"/>
<rect x="8" y="615" width="1" height="5" fill="#c0c0c0"/>
<rect x="12" y="611" width="1" height="9" fill="#c0c0c0"/>
<rect x="16" y="608" width="1" height="12" fill="#c0c0c0"/>
<rect x="20" y="606" width="1" height="14" fill="#c0c0c0"/>
<rect x="24" y="606" width="1" height="14" fill="#c0c0c0"/>
<rect x="28" y="607" width="1" height="13" fill="#c0c0c0"/>
<rect x="32" y="607" width="1" height="13" fill="#c0c0c0"/>
<rect x="36" y="606" width="1" height="14" fill="#c0c0c0"/>
<rect x="40" y="605" width="1" height="15" fill="#c0c0c0"/>
<rect x="44" y="604" width="1" height="16" fill="#c0c0c0"/>
<rect x="48" y="603" width="1" height="17" fill="#c0c0c0"/>
<rect x="52" y="601" width="1" height="19" fill="#c0c0c0"/>
<rect x="56" y="603" width="1" height="17" fill="#c0c0c0"/>
<rect x="60" y="603" width="1" height="17" fill="#c0c0c0"/>
<rect x="64" y="604" width="1" height="16" fill="#c0c0c0"/>
<rect x="68" y="605" width="1" height="15" fill="#c0c0c0"/>
<rect x="72" y="605" width="1" height="15" fill="#c0c0c0"/>
<rect x="76" y="606" width="1" height="14" fill="#c0c0c0"/>
<rect x="80" y="605" width="1" height="15" fill="#c0c0c0"/>
<rect x="84" y="602" width="1" height="18" fill="#c0c0c0"/>
<rect x="88" y="601" width="1" height="19" fill="#c0c0c0"/>
<rect x="92" y="597" width="1" height="23" fill="#c0c0c0"/>
<rect x="96" y="596" width="1" height="24" fill="#c0c0c0"/>
<rect x="100" y="594" width="1" height="26" fill="#c0c0c0"/>
<rect x="104" y="596" width="1" height="24" fill="#c0c0c0"/>
<rect x="108" y="599" width="1" height="21" fill="#c0c0c0"/>
<rect x="112" y="601" width="1" height="19" fill="#c0c0c0"/>
<rect x="116" y="603" width="1" height="17" fill="#c0c0c0"/>
<rect x="120" y="598" width="1" height="22" fill="#c0c0c0"/>
<rect x="124" y="598" width="1" height="22" fill="#c0c0c0"/>
<rect x="128" y="600" width="1" height="20" fill="#c0c0c0"/>
<rect x="132" y="600" width="1" height="20" fill="#c0c0c0"/>
<rect x="136" y="601" width="1" height="19" fill="#c0c0c0"/>
<rect x="140" y="600" width="1" height="20" fill="#c0c0c0"/>
<rect x="144" y="598" width="1" height="22" fill="#c0c0c0"/>
<rect x="148" y="597" width="1" height="23" fill="#c0c0c0"/>
<rect x="152" y="597" width="1" height="23" fill="#c0c0c0"/>
<rect x="156" y="597" width="1" height="23" fill="#c0c0c0"/>
<rect x="160" y="598" width="1" height="22" fill="#c0c0c0"/>
<rect x="164" y="602" width="1" height="18" fill="#c0c0c0"/>
<rect x="168" y="602" width="1" height="18" fill="#c0c0c0"/>
<rect x="172" y="599" width="1" height="21" fill="#c0c0c0"/>
<rect x="176" y="595" width="1" height="25" fill="#c0c0c0"/>
<rect x="180" y="597" width="1" height="23" fill="#c0c0c0"/>
<rect x="184" y="596" width="1" height="24" fill="#c0c0c0"/>
<rect x="188" y="594" width="1" height="26" fill="#c0c0c0"/>
<rect x="192" y="593" width="1" height="27" fill="#c0c0c0"/>
<rect x="196" y="593" width="1" height="27" fill="#c0c0c0"/>
<rect x="200" y="594" width="1" height="26" fill="#c0c0c0"/>
<rect x="204" y="594" width="1" height="26" fill="#c0c0c0"/>
<rect x="208" y="594" width="1" height="26" fill="#c0c0c0"/>
<rect x="212" y="593" width="1" height="27" fill="#c0c0c0"/>
<rect x="216" y="590" width="1" height="30" fill="#c0c0c0"/>
<rect x="220" y="588" width="1" height="32" fill="#c0c0c0"/>
<rect x="224" y="586" width="1" height="34" fill="#c0c0c0"/>
<rect x="228" y="581" width="1" height="39" fill="#c0c0c0"/>
<rect x="232" y="577" width="1" height="43" fill="#c0c0c0"/>
<rect x="236" y="575" width="1" height="45" fill="#c0c0c0"/>
<rect x="240" y="573" width="1" height="47" fill="#c0c0c0"/>
<rect x="244" y="573" width="1" height="47" fill="#c0c0c0"/>
<rect x="248" y="572" width="1" height="48" fill="#c0c0c0"/>
<rect x="252" y="571" width="1" height="49" fill="#c0c0c0"/>
<rect x="256" y="571" width="1" height="49" fill="#c0c0c0"/>
<rect x="260" y="572" width="1" height="48" fill="#c0c0c0"/>
<rect x="264" y="573" width="1" height="47" fill="#c0c0c0"/>
<rect x="268" y="574" width="1" height="46" fill="#c0c0c0"/>
<rect x="272" y="582" width="1" height="38" fill="#c0c0c0"/>
<rect x="276" y="592" width="1" height="28" fill="#c0c0c0"/>
<rect x="280" y="601" width="1" height="19" fill="#c0c0c0"/>
<rect x="284" y="611" width="1" height="9" fill="#c0c0c0"/>
<rect x="288" y="620" width="1" height="2" fill="#c0c0c0"/>
<rect x="292" y="620" width="1" height="11" fill="#c0c0c0"/>
<rect x="296" y="620" width="1" height="18" fill="#c0c0c0"/>
<rect x="300" y="620" width="1" height="21" fill="#c0c0c0"/>
<rect x="304" y="620" width="1" height="23" fill="#c0c0c0"/>
<rect x="308" y="620" width="1" height="25" fill="#c0c0c0"/>
<rect x="312" y="620" width="1" height="26" fill="#c0c0c0"/>
<rect x="316" y="620" width="1" height="27" fill="#c0c0c0"/>
<rect x="320" y="620" width="1" height="27" fill="#c0c0c0"/>
<rect x="324" y="620" width="1" height="26" fill="#c0c0c0"/>
<rect x="328" y="620" width="1" height="26" fill="#c0c0c0"/>
<rect x="332" y="620" width="1" height="24" fill="#c0c0c0"/>
<rect x="336" y="620" width="1" height="20" fill="#c0c0c0"/>
<rect x="340" y="620" width="1" height="17" fill="#c0c0c0"/>
<rect x="344" y="620" width="1" height="14" fill="#c0c0c0"/>
<rect x="348" y="620" width="1" height="17" fill="#c0c0c0"/>
<rect x="352" y="620" width="1" height="19" fill="#c0c0c0"/>
<rect x="356" y="620" width="1" height="19" fill="#c0c0c0"/>
<rect x="360" y="620" width="1" height="18" fill="#c0c0c0"/>
<rect x="364" y="620" width="1" height="23" fill="#c0c0c0"/>
<rect x="368" y="620" width="1" height="27" fill="#c0c0c0"/>
<rect x="372" y="620" width="1" height="31" fill="#c0c0c0"/>
<rect x="376" y="620" width="1" height="34" fill="#c0c0c0"/>
<rect x="380" y="620" width="1" height="35" fill="#c0c0c0"/>
<rect x="384" y="620" width="1" height="35" fill="#c0c0c0"/>
<rect x="388" y="620" width="1" height="31" fill="#c0c0c0"/>
<rect x="392" y="620" width="1" height="23" fill="#c0c0c0"/>
<rect x="396" y="620" width="1" height="19" fill="#c0c0c0"/>
<rect x="400" y="620" width="1" height="15" fill="#c0c0c0"/>
<rect x="404" y="620" width="1" height="10" fill="#c0c0c0"/>
<rect x="408" y="620" width="1" height="10" fill="#c0c0c0"/>
<rect x="412" y="620" width="1" height="8" fill="#c0c0c0"/>
<rect x="416" y="620" width="1" height="5" fill="#c0c0c0"/>
<rect x="420" y="620" width="1" height="5" fill="#c0c0c0"/>
<rect x="424" y="620" width="1" height="5" fill="#c0c0c0"/>
<rect x="428" y="620" width="1" height="5" fill="#c0c0c0"/>
<rect x="432" y="620" width="1" height="6" fill="#c0c0c0"/>
<rect x="436" y="620" width="1" height="8" fill="#c0c0c0"/>
<rect x="440" y="620" width="1" height="8" fill="#c0c0c0"/>
<rect x="444" y="620" width="1" height="11" fill="#c0c0c0"/>
<rect x="448" y="620" width="1" height="14" fill="#c0c0c0"/>
<rect x="452" y="620" width="1" height="13" fill="#c0c0c0"/>
<rect x="456" y="620" width="1" height="14" fill="#c0c0c0"/>
<rect x="460" y="620" width="1" height="15" fill="#c0c0c0"/>
<rect x="464" y="620" width="1" height="15" fill="#c0c0c0"/>
<rect x="468" y="620" width="1" height="9" fill="#c0c0c0"/>
<rect x="472" y="620" width="1" height="4" fill="#c0c0c0"/>
<rect x="476" y="620" width="1" height="1" fill="#c0c0c0"/>
<rect x="480" y="615" width="1" height="5" fill="#c0c0c0"/>
<rect x="484" y="607" width="1" height="13" fill="#c0c0c0"/>
<rect x="488" y="601" width="1" height="19" fill="#c0c0c0"/>
<rect x="492" y="598" width="1" height="22" fill="#c0c0c0"/>
<rect x="496" y="595" width="1" height="25" fill="#c0c0c0"/>
<rect x="500" y="595" width="1" height="25" fill="#c0c0c0"/>
<rect x="504" y="596" width="1" height="24" fill="#c0c0c0"/>
<rect x="508" y="600" width="1" height="20" fill="#c0c0c0"/>
<rect x="512" y="602" width="1" height="18" fill="#c0c0c0"/>
<rect x="516" y="603" width="1" height="17" fill="#c0c0c0"/>
<rect x="520" y="604" width="1" height="16" fill="#c0c0c0"/>
<rect x="524" y="605" width="1" height="15" fill="#c0c0c0"/>
<rect x="528" y="607" width="1" height="13" fill="#c0c0c0"/>
<rect x="532" y="610" width="1" height="10" fill="#c0c0c0"/>
<rect x="536" y="609" width="1" height="11" fill="#c0c0c0"/>
<rect x="540" y="606" width="1" height="14" fill="#c0c0c0"/>
<rect x="544" y="604" width="1" height="16" fill="#c0c0c0"/>
<rect x="548" y="604" width="1" height="16" fill="#c0c0c0"/>
<rect x="552" y="605" width="1" height="15" fill="#c0c0c0"/>
<rect x="556" y="604" width="1" height="16" fill="#c0c0c0"/>
<rect x="560" y="603" width="1" height="17" fill="#c0c0c0"/>
<rect x="564" y="605" width="1" height="15" fill="#c0c0c0"/>
<rect x="568" y="608" width="1" height="12" fill="#c0c0c0"/>
<rect x="572" y="611" width="1" height="9" fill="#c0c0c0"/>
<rect x="576" y="613" width="1" height="7" fill="#c0c0c0"/>
<rect x="580" y="614" width="1" height="6" fill="#c0c0c0"/>
<rect x="584" y="614" width="1" height="6" fill="#c0c0c0"/>
<rect x="588" y="613" width="1" height="7" fill="#c0c0c0"/>
<rect x="592" y="613" width="1" height="7" fill="#c0c0c0"/>
<rect x="596" y="616" width="1" height="4" fill="#c0c0c0"/>
<rect x="600" y="617" width="1" height="3" fill="#c0c0c0"/>
<rect x="604" y="619" width="1" height="1" fill="#c0c0c0"/>
<rect x="608" y="618" width="1" height="2" fill="#c0c0c0"/>
<rect x="612" y="619" width="1" height="1" fill="#c0c0c0"/>
<rect x="616" y="620" width="1" height="1" fill="#c0c0c0"/>
<rect x="620" y="619" width="1" height="1" fill="#c0c0c0"/>
<rect x="624" y="619" width="1" height="1" fill="#c0c0c0"/>
<rect x="628" y="619" width="1" height="1" fill="#c0c0c0"/>
<rect x="632" y="618" width="1" height="2" fill="#c0c0c0"/>
<rect x="636" y="617" width="1" height="3" fill="#c0c0c0"/>
<rect x="640" y="618" width="1" height="2" fill="#c0c0c0"/>
<rect x="644" y="615" width="1" height="5" fill="#c0c0c0"/>
<rect x="648" y="610" width="1" height="10" fill="#c0c0c0"/>
<rect x="652" y="607" width="1" height="13" fill="#c0c0c0"/>
<rect x="656" y="605" width="1" height="15" fill="#c0c0c0"/>
<rect x="660" y="604" width="1" height="16" fill="#c0c0c0"/>
<rect x="664" y="604" width="1" height="16" fill="#c0c0c0"/>
<rect x="668" y="607" width="1" height="13" fill="#c0c0c0"/>
<rect x="672" y="607" width="1" height="13" fill="#c0c0c0"/>
<rect x="676" y="606" width="1" height="14" fill="#c0c0c0"/>
<rect x="680" y="607" width="1" height="13" fill="#c0c0c0"/>
<rect x="684" y="606" width="1" height="14" fill="#c0c0c0"/>
<rect x="688" y="607" width="1" height="13" fill="#c0c0c0"/>
<rect x="692" y="606" width="1" height="14" fill="#c0c0c0"/>
<rect x="696" y="606" width="1" height="14" fill="#c0c0c0"/>
<rect x="700" y="606" width="1" height="14" fill="#c0c0c0"/>
<rect x="704" y="608" width="1" height="12" fill="#c0c0c0"/>
<rect x="708" y="609" width="1" height="11" fill="#c0c0c0"/>
<rect x="712" y="609" width="1" height="11" fill="#c0c0c0"/>
<rect x="716" y="609" width="1" height="11" fill="#c0c0c0"/>
<rect x="720" y="610" width="1" height="10" fill="#c0c0c0"/>
<rect x="724" y="610" width="1" height="10" fill="#c0c0c0"/>
<rect x="728" y="612" width="1" height="8" fill="#c0c0c0"/>
<rect x="732" y="612" width="1" height="8" fill="#c0c0c0"/>
<rect x="736" y="614" width="1" height="6" fill="#c0c0c0"/>
<rect x="740" y="616" width="1" height="4" fill="#c0c0c0"/>
<rect x="744" y="617" width="1" height="3" fill="#c0c0c0"/>
<rect x="748" y="615" width="1" height="5" fill="#c0c0c0"/>
<rect x="752" y="616" width="1" height="4" fill="#c0c0c0"/>
<rect x="756" y="617" width="1" height="3" fill="#c0c0c0"/>
<rect x="760" y="617" width="1" height="3" fill="#c0c0c0"/>
<rect x="764" y="615" width="1" height="5" fill="#c0c0c0"/>
<rect x="768" y="613" width="1" height="7" fill="#c0c0c0"/>
<rect x="772" y="610" width="1" height="10" fill="#c0c0c0"/>
<rect x="776" y="609" width="1" height="11" fill="#c0c0c0"/>
<rect x="780" y="608" width="1" height="12" fill="#c0c0c0"/>
<rect x="784" y="611" width="1" height="9" fill="#c0c0c0"/>
<rect x="788" y="615" width="1" height="5" fill="#c0c0c0"/>
<rect x="792" y="617" width="1" height="3" fill="#c0c0c0"/>
<rect x="796" y="620" width="1" height="2" fill="#c0c0c0"/>
<rect x="800" y="620" width="1" height="9" fill="#c0c0c0"/>
<rect x="804" y="620" width="1" height="14" fill="#c0c0c0"/>
<rect x="808" y="620" width="1" height="19" fill="#c0c0c0"/>
<rect x="812" y="620" width="1" height="21" fill="#c0c0c0"/>
<rect x="816" y="620" width="1" height="21" fill="#c0c0c0"/>
<rect x="820" y="620" width="1" height="20" fill="#c0c0c0"/>
<rect x="824" y="620" width="1" height="16" fill="#c0c0c0"/>
<rect x="828" y="620" width="1" height="13" fill="#c0c0c0"/>
<rect x="832" y="620" width="1" height="10" fill="#c0c0c0"/>
<rect x="836" y="620" width="1" height="9" fill="#c0c0c0"/>
<rect x="840" y="620" width="1" height="13" fill="#c0c0c0"/>
<rect x="844" y="620" width="1" height="20" fill="#c0c0c0"/>
<rect x="848" y="620" width="1" height="23" fill="#c0c0c0"/>
<rect x="852" y="620" width="1" height="26" fill="#c0c0c0"/>
<rect x="856" y="620" width="1" height="29" fill="#c0c0c0"/>
<rect x="860" y="620" width="1" height="31" fill="#c0c0c0"/>
<rect x="864" y="620" width="1" height="35" fill="#c0c0c0"/>
<rect x="868" y="620" width="1" height="38" fill="#c0c0c0"/>
<rect x="872" y="620" width="1" height="41" fill="#c0c0c0"/>
<rect x="876" y="620" width="1" height="43" fill="#c0c0c0"/>
<rect x="880" y="620" width="1" height="41" fill="#c0c0c0"/>
<rect x="884" y="620" width="1" height="41" fill="#c0c0c0"/>
<rect x="888" y="620" width="1" height="43" fill="#c0c0c0"/>
<rect x="892" y="620" width="1" height="44" fill="#c0c0c0"/>
<rect x="896" y="620" width="1" height="42" fill="#c0c0c0"/>
<rect x="900" y="620" width="1" height="41" fill="#c0c0c0"/>
<rect x="904" y="620" width="1" height="39" fill="#c0c0c0"/>
<rect x="908" y="620" width="1" height="35" fill="#c0c0c0"/>
<rect x="912" y="620" width="1" height="34" fill="#c0c0c0"/>
<rect x="916" y="620" width="1" height="34" fill="#c0c0c0"/>
<rect x="920" y="620" width="1" height="34" fill="#c0c0c0"/>
<rect x="924" y="620" width="1" height="34" fill="#c0c0c0"/>
<rect x="928" y="620" width="1" height="33" fill="#c0c0c0"/>
<rect x="932" y="620" width="1" height="30" fill="#c0c0c0"/>
<rect x="936" y="620" width="1" height="29" fill="#c0c0c0"/>
<rect x="940" y="620" width="1" height="29" fill="#c0c0c0"/>
<rect x="944" y="620" width="1" height="27" fill="#c0c0c0"/>
<rect x="948" y="620" width="1" height="25" fill="#c0c0c0"/>
<rect x="952" y="620" width="1" height="21" fill="#c0c0c0"/>
<rect x="956" y="620" width="1" height="17" fill="#c0c0c0"/>
<rect x="960" y="620" width="1" height="13" fill="#c0c0c0"/>
<rect x="964" y="620" width="1" height="9" fill="#c0c0c0"/>
<rect x="968" y="620" width="1" height="6" fill="#c0c0c0"/>
<rect x="972" y="620" width="1" height="3" fill="#c0c0c0"/>
<rect x="976" y="620" width="1" height="1" fill="#c0c0c0"/>
<rect x="980" y="620" width="1" height="1" fill="#c0c0c0"/>
<rect x="984" y="618" width="1" height="2" fill="#c0c0c0"/>
<rect x="988" y="615" width="1" height="5" fill="#c0c0c0"/>
<rect x="992" y="613" width="1" height="7" fill="#c0c0c0"/>
<rect x="996" y="612" width="1" height="8" fill="#c0c0c0"/>
<rect x="1000" y="610" width="1" height="10" fill="#c0c0c0"/>
<rect x="1004" y="607" width="1" height="13" fill="#c0c0c0"/>
<rect x="1008" y="603" width="1" height="17" fill="#c0c0c0"/>
<rect x="1012" y="603" width="1" height="17" fill="#c0c0c0"/>
<rect x="1016" y="604" width="1" height="16" fill="#c0c0c0"/>
<rect x="1020" y="605" width="1" height="15" fill="#c0c0c0"/>
<rect x="1024" y="606" width="1" height="14" fill="#c0c0c0"/>
<rect x="1028" y="607" width="1" height="13" fill="#c0c0c0"/>
<rect x="1032" y="604" width="1" height="16" fill="#c0c0c0"/>
<rect x="1036" y="601" width="1" height="19" fill="#c0c0c0"/>
<rect x="1040" y="602" width="1" height="18" fill="#c0c0c0"/>
<rect x="1044" y="602" width="1" height="18" fill="#c0c0c0"/>
<rect x="1048" y="600" width="1" height="20" fill="#c0c0c0"/>
<rect x="1052" y="599" width="1" height="21" fill="#c0c0c0"/>
<rect x="1056" y="600" width="1" height="20" fill="#c0c0c0"/>
<rect x="1060" y="601" width="1" height="19" fill="#c0c0c0"/>
<rect x="1064" y="601" width="1" height="19" fill="#c0c0c0"/>
<rect x="1068" y="601" width="1" height="19" fill="#c0c0c0"/>
<rect x="1072" y="604" width="1" height="16" fill="#c0c0c0"/>
<rect x="1076" y="605" width="1" height="15" fill="#c0c0c0"/>
<rect x="1080" y="605" width="1" height="15" fill="#c0c0c0"/>
<rect x="1084" y="606" width="1" height="14" fill="#c0c0c0"/>
<rect x="1088" y="606" width="1" height="14" fill="#c0c0c0"/>
<rect x="1092" y="606" width="1" height="14" fill="#c0c0c0"/>
<rect x="1096" y="605" width="1" height="15" fill="#c0c0c0"/>
<rect x="1100" y="605" width="1" height="15" fill="#c0c0c0"/>
<rect x="1104" y="609" width="1" height="11" fill="#c0c0c0"/>
<rect x="1108" y="613" width="1" height="7" fill="#c0c0c0"/>
<rect x="1112" y="618" width="1" height="2" fill="#c0c0c0"/>
<rect x="1116" y="620" width="1" height="2" fill="#c0c0c0"/>
<rect x="1120" y="620" width="1" height="5" fill="#c0c0c0"/>
<rect x="1124" y="620" width="1" height="9" fill="#c0c0c0"/>
<rect x="1128" y="620" width="1" height="12" fill="#c0c0c0"/>
<polyline points="4.5,624.6 8.5,622.9 12.5,620.9 16.5,618.8 20.5,616.7 24.5,614.6 28.5,612.8 32.5,611.2 36.5,609.7 40.5,608.2 44.5,607.0 48.5,606.2 52.5,605.5 56.5,605.2 60.5,604.9 64.5,604.7 68.5,604.5 72.5,604.4 76.5,604.4 80.5,604.5 84.5,604.4 88.5,604.3 92.5,603.7 96.5,602.9 100.5,601.8 104.5,600.9 108.5,600.1 112.5,599.6 116.5,599.4 120.5,598.9 124.5,598.7 128.5,599.0 132.5,599.4 136.5,600.1 140.5,600.5 144.5,600.4 148.5,600.0 152.5,599.4 156.5,599.2 160.5,599.2 164.5,599.3 168.5,599.5 172.5,599.3 176.5,598.8 180.5,598.7 184.5,598.6 188.5,598.2 192.5,597.7 196.5,597.2 200.5,596.4 204.5,595.4 208.5,594.9 212.5,594.7 216.5,594.0 220.5,593.1 224.5,592.2 228.5,590.9 232.5,589.1 236.5,586.9 240.5,584.6 244.5,582.3 248.5,580.0 252.5,577.9 256.5,575.9 260.5,574.3 264.5,573.4 268.5,573.0 272.5,573.8 276.5,575.8 280.5,578.9 284.5,583.2 288.5,588.9 292.5,595.7 296.5,603.0 300.5,610.6 304.5,618.4 308.5,625.4 312.5,631.5 316.5,636.6 320.5,640.5 324.5,643.3 328.5,644.8 332.5,645.5 336.5,645.4 340.5,644.7 344.5,643.5 348.5,642.4 352.5,641.5 356.5,640.7 360.5,639.8 364.5,639.4 368.5,639.8 372.5,641.1 376.5,643.0 380.5,645.3 384.5,647.3 388.5,648.6 392.5,649.0 396.5,649.1 400.5,648.2 404.5,646.4 408.5,644.0 412.5,641.1 416.5,637.8 420.5,634.4 424.5,631.5 428.5,629.4 432.5,628.0 436.5,627.3 440.5,627.0 444.5,627.2 448.5,627.8 452.5,628.7 456.5,629.8 460.5,630.9 464.5,632.0 468.5,632.3 472.5,631.9 476.5,631.0 480.5,629.2 484.5,626.2 488.5,622.6 492.5,618.6 496.5,614.2 500.5,609.7 504.5,606.1 508.5,603.3 512.5,601.3 516.5,600.0 520.5,599.7 524.5,600.2 528.5,601.2 532.5,602.8 536.5,604.4 540.5,605.6 544.5,606.1 548.5,606.4 552.5,606.5 556.5,606.5 560.5,606.2 564.5,606.1 568.5,605.8 572.5,606.1 576.5,606.7 580.5,607.8 584.5,608.9 588.5,609.8 592.5,610.9 596.5,612.4 600.5,613.7 604.5,615.0 608.5,615.8 612.5,616.5 616.5,617.1 620.5,617.6 624.5,618.2 628.5,618.8 632.5,619.0 636.5,619.0 640.5,618.8 644.5,618.5 648.5,617.5 652.5,616.1 656.5,614.6 660.5,613.0 664.5,611.4 668.5,610.1 672.5,609.0 676.5,607.7 680.5,606.8 684.5,606.3 688.5,606.3 692.5,606.4 696.5,606.5 700.5,606.8 704.5,607.0 708.5,607.2 712.5,607.6 716.5,607.8 720.5,608.3 724.5,608.7 728.5,609.3 732.5,610.1 736.5,611.0 740.5,611.8 744.5,612.7 748.5,613.4 752.5,614.2 756.5,614.9 760.5,615.6 764.5,616.0 768.5,616.1 772.5,615.7 776.5,614.9 780.5,613.9 784.5,613.3 788.5,613.2 792.5,613.3 796.5,613.8 800.5,615.3 804.5,617.7 808.5,620.8 812.5,624.4 816.5,628.0 820.5,631.3 824.5,633.6 828.5,635.4 832.5,636.3 836.5,636.4 840.5,636.3 844.5,636.4 848.5,636.6 852.5,637.3 856.5,638.2 860.5,639.9 864.5,642.4 868.5,645.5 872.5,649.0 876.5,652.3 880.5,654.7 884.5,656.7 888.5,658.6 892.5,660.2 896.5,661.4 900.5,662.2 904.5,662.2 908.5,661.5 912.5,660.6 916.5,659.8 920.5,659.0 924.5,658.0 928.5,656.8 932.5,655.5 936.5,654.1 940.5,653.0 944.5,652.1 948.5,651.1 952.5,649.7 956.5,647.7 960.5,645.3 964.5,642.7 968.5,639.9 972.5,637.0 976.5,634.0 980.5,631.0 984.5,627.9 988.5,625.0 992.5,622.4 996.5,620.0 1000.5,617.9 1004.5,615.8 1008.5,613.5 1012.5,611.5 1016.5,609.8 1020.5,608.5 1024.5,607.4 1028.5,606.7 1032.5,605.9 1036.5,604.9 1040.5,604.3 1044.5,604.3 1048.5,604.0 1052.5,603.4 1056.5,602.9 1060.5,602.3 1064.5,601.8 1068.5,601.5 1072.5,601.8 1076.5,602.2 1080.5,602.5 1084.5,603.2 1088.5,603.9 1092.5,604.5 1096.5,605.0 1100.5,605.4 1104.5,606.2 1108.5,607.2 1112.5,608.6 1116.5,610.5 1120.5,612.6 1124.5,615.1 1128.5,618.0" fill="none" stroke="#ff0000" stroke-width="1" shape-rendering="crispEdges" stroke-linejoin="round" stroke-dasharray="3,3"/>
<text x="8" y="683" font-size="10" fill="#000" text-anchor="start" font-weight="normal" letter-spacing="-0.34" >RSI(14) 36.2679</text>
<text x="1423.3" y="682" font-size="10" fill="#000" text-anchor="start" font-weight="normal" letter-spacing="-0.5" >100</text>
<text x="1423.3" y="714" font-size="10" fill="#000" text-anchor="start" font-weight="normal" letter-spacing="-0.5" >70</text>
<text x="1423.3" y="765" font-size="10" fill="#000" text-anchor="start" font-weight="normal" letter-spacing="-0.5" >30</text>
<text x="1423.3" y="797" font-size="10" fill="#000" text-anchor="start" font-weight="normal" letter-spacing="-0.5" >0</text>
<line x1="4" y1="710.5" x2="1419" y2="710.5" stroke="#c0c0c0" stroke-width="1" stroke-dasharray="3,3"/>
<rect x="1420" y="710" width="2" height="1" fill="#000" />
<line x1="4" y1="761.5" x2="1419" y2="761.5" stroke="#c0c0c0" stroke-width="1" stroke-dasharray="3,3"/>
<rect x="1420" y="761" width="2" height="1" fill="#000" />
<polyline points="4.5,730.6 8.5,725.3 12.5,721.7 16.5,723.6 20.5,724.7 24.5,727.2 28.5,732.3 32.5,729.1 36.5,726.8 40.5,725.8 44.5,722.0 48.5,724.8 52.5,719.4 56.5,731.2 60.5,728.2 64.5,730.4 68.5,728.7 72.5,728.3 76.5,728.3 80.5,723.8 84.5,715.5 88.5,719.2 92.5,713.5 96.5,717.8 100.5,715.0 104.5,729.3 108.5,730.7 112.5,733.6 116.5,729.5 120.5,714.8 124.5,727.0 128.5,731.7 132.5,727.2 136.5,727.8 140.5,725.0 144.5,720.5 148.5,724.0 152.5,724.2 156.5,722.4 160.5,726.4 164.5,736.9 168.5,729.4 172.5,718.7 176.5,716.5 180.5,731.0 184.5,726.5 188.5,721.0 192.5,723.5 196.5,726.6 200.5,726.6 204.5,724.6 208.5,723.1 212.5,720.5 216.5,716.7 220.5,714.8 224.5,712.8 228.5,706.8 232.5,705.5 236.5,707.5 240.5,707.5 244.5,710.6 248.5,706.5 252.5,705.0 256.5,708.3 260.5,708.3 264.5,708.3 268.5,707.7 272.5,737.4 276.5,747.6 280.5,750.0 284.5,756.7 288.5,760.7 292.5,762.9 296.5,758.2 300.5,753.2 304.5,753.5 308.5,752.0 312.5,753.8 316.5,754.0 320.5,749.4 324.5,750.9 328.5,749.3 332.5,745.1 336.5,734.5 340.5,737.2 344.5,735.4 348.5,752.3 352.5,752.8 356.5,745.9 360.5,743.6 364.5,757.5 368.5,759.0 372.5,762.0 376.5,759.8 380.5,756.8 384.5,754.6 388.5,740.3 392.5,728.6 396.5,733.9 400.5,732.9 404.5,729.8 408.5,739.2 412.5,735.5 416.5,731.2 420.5,737.0 424.5,738.2 428.5,739.2 432.5,741.9 436.5,746.5 440.5,738.7 444.5,748.2 448.5,749.0 452.5,741.2 456.5,743.7 460.5,745.8 464.5,742.7 468.5,726.4 472.5,728.5 476.5,725.7 480.5,721.5 484.5,714.3 488.5,714.3 492.5,719.7 496.5,718.5 500.5,722.4 504.5,728.3 508.5,736.1 512.5,732.9 516.5,731.0 520.5,731.0 524.5,730.8 528.5,733.8 532.5,739.2 536.5,728.0 540.5,722.8 544.5,722.5 548.5,726.8 552.5,728.8 556.5,724.6 560.5,722.4 564.5,735.4 568.5,736.1 572.5,741.1 576.5,736.3 580.5,736.1 584.5,732.9 588.5,729.1 592.5,732.5 596.5,741.9 600.5,738.9 604.5,740.7 608.5,731.2 612.5,737.9 616.5,737.9 620.5,732.3 624.5,734.8 628.5,735.8 632.5,732.0 636.5,730.5 640.5,736.7 644.5,724.1 648.5,716.5 652.5,719.6 656.5,723.2 660.5,722.9 664.5,724.7 668.5,736.4 672.5,729.0 676.5,724.8 680.5,732.4 684.5,726.3 688.5,730.3 692.5,727.1 696.5,726.9 700.5,728.5 704.5,736.1 708.5,732.9 712.5,727.3 716.5,730.7 720.5,733.8 724.5,730.5 728.5,734.3 732.5,733.8 736.5,737.7 740.5,741.9 744.5,735.0 748.5,728.8 752.5,734.9 756.5,735.7 760.5,736.0 764.5,726.3 768.5,722.8 772.5,720.0 776.5,721.5 780.5,723.3 784.5,739.3 788.5,746.8 792.5,741.2 796.5,750.4 800.5,759.0 804.5,759.0 808.5,759.5 812.5,755.8 816.5,745.7 820.5,746.7 824.5,732.4 828.5,733.5 832.5,734.0 836.5,739.2 840.5,751.9 844.5,759.7 848.5,754.9 852.5,755.8 856.5,757.3 860.5,758.0 864.5,762.6 868.5,764.8 872.5,765.8 876.5,763.6 880.5,754.6 884.5,758.3 888.5,762.1 892.5,762.7 896.5,755.2 900.5,755.9 904.5,750.8 908.5,746.2 912.5,753.1 916.5,753.6 920.5,757.7 924.5,757.1 928.5,753.8 932.5,745.7 936.5,750.2 940.5,752.8 944.5,747.0 948.5,748.0 952.5,734.1 956.5,732.5 960.5,731.7 964.5,729.1 968.5,727.2 972.5,727.8 976.5,729.2 980.5,733.0 984.5,724.2 988.5,721.2 992.5,722.3 996.5,724.6 1000.5,722.2 1004.5,712.0 1008.5,708.2 1012.5,727.7 1016.5,731.5 1020.5,729.8 1024.5,727.1 1028.5,731.2 1032.5,718.1 1036.5,717.5 1040.5,726.8 1044.5,727.7 1048.5,719.3 1052.5,721.5 1056.5,727.0 1060.5,726.0 1064.5,726.3 1068.5,723.2 1072.5,735.6 1076.5,730.1 1080.5,727.1 1084.5,731.7 1088.5,725.9 1092.5,726.5 1096.5,724.1 1100.5,723.5 1104.5,743.3 1108.5,742.7 1112.5,749.9 1116.5,751.0 1120.5,750.1 1124.5,753.1 1128.5,753.3" fill="none" stroke="#1e90ff" stroke-width="1" shape-rendering="crispEdges" stroke-linejoin="round" />
<rect x="4" y="801" width="1" height="3" fill="#000" />
<text x="3.3" y="813" font-size="10" fill="#000" text-anchor="start" font-weight="normal" letter-spacing="-0.34" >17 Oct 2018</text>
<rect x="68" y="801" width="1" height="3" fill="#000" />
<text x="67.3" y="813" font-size="10" fill="#000" text-anchor="start" font-weight="normal" letter-spacing="-0.34" >5 Nov 2018</text>
<rect x="132" y="801" width="1" height="3" fill="#000" />
<text x="131.3" y="813" font-size="10" fill="#000" text-anchor="start" font-weight="normal" letter-spacing="-0.34" >23 Nov 2018</text>
<rect x="196" y="801" width="1" height="3" fill="#000" />
<text x="195.3" y="813" font-size="10" fill="#000" text-anchor="start" font-weight="normal" letter-spacing="-0.34" >12 Dec 2018</text>
<rect x="260" y="801" width="1" height="3" fill="#000" />
<text x="259.3" y="813" font-size="10" fill="#000" text-anchor="start" font-weight="normal" letter-spacing="-0.34" >31 Dec 2018</text>
<rect x="324" y="801" width="1" height="3" fill="#000" />
<text x="323.3" y="813" font-size="10" fill="#000" text-anchor="start" font-weight="normal" letter-spacing="-0.34" >18 Jan 2019</text>
<rect x="388" y="801" width="1" height="3" fill="#000" />
<text x="387.3" y="813" font-size="10" fill="#000" text-anchor="start" font-weight="normal" letter-spacing="-0.34" >6 Feb 2019</text>
<rect x="452" y="801" width="1" height="3" fill="#000" />
<text x="451.3" y="813" font-size="10" fill="#000" text-anchor="start" font-weight="normal" letter-spacing="-0.34" >25 Feb 2019</text>
<rect x="516" y="801" width="1" height="3" fill="#000" />
<text x="515.3" y="813" font-size="10" fill="#000" text-anchor="start" font-weight="normal" letter-spacing="-0.34" >15 Mar 2019</text>
<rect x="580" y="801" width="1" height="3" fill="#000" />
<text x="579.3" y="813" font-size="10" fill="#000" text-anchor="start" font-weight="normal" letter-spacing="-0.34" >3 Apr 2019</text>
<rect x="644" y="801" width="1" height="3" fill="#000" />
<text x="643.3" y="813" font-size="10" fill="#000" text-anchor="start" font-weight="normal" letter-spacing="-0.34" >23 Apr 2019</text>
<rect x="708" y="801" width="1" height="3" fill="#000" />
<text x="707.3" y="813" font-size="10" fill="#000" text-anchor="start" font-weight="normal" letter-spacing="-0.34" >12 May 2019</text>
<rect x="772" y="801" width="1" height="3" fill="#000" />
<text x="771.3" y="813" font-size="10" fill="#000" text-anchor="start" font-weight="normal" letter-spacing="-0.34" >30 May 2019</text>
<rect x="836" y="801" width="1" height="3" fill="#000" />
<text x="835.3" y="813" font-size="10" fill="#000" text-anchor="start" font-weight="normal" letter-spacing="-0.34" >18 Jun 2019</text>
<rect x="900" y="801" width="1" height="3" fill="#000" />
<text x="899.3" y="813" font-size="10" fill="#000" text-anchor="start" font-weight="normal" letter-spacing="-0.34" >7 Jul 2019</text>
<rect x="964" y="801" width="1" height="3" fill="#000" />
<text x="963.3" y="813" font-size="10" fill="#000" text-anchor="start" font-weight="normal" letter-spacing="-0.34" >25 Jul 2019</text>
<rect x="1028" y="801" width="1" height="3" fill="#000" />
<text x="1027.3" y="813" font-size="10" fill="#000" text-anchor="start" font-weight="normal" letter-spacing="-0.34" >13 Aug 2019</text>
<rect x="1092" y="801" width="1" height="3" fill="#000" />
<text x="1091.3" y="813" font-size="10" fill="#000" text-anchor="start" font-weight="normal" letter-spacing="-0.34" >1 Sep 2019</text>
<rect x="0" y="821" width="1462" height="1" fill="#e8e8e8" />
<rect x="0" y="822" width="1462" height="1" fill="#ffffff" />
<rect x="0" y="823" width="1462" height="1" fill="#000" />
<rect x="0" y="824" width="1462" height="19" fill="#f0f0f0" />
<rect x="0" y="843" width="1462" height="4" fill="#fafafa" />
<rect x="0" y="824" width="1" height="18" fill="#808080" />
<rect x="329" y="823" width="109" height="19" fill="#ffffff" />
<rect x="329" y="824" width="1" height="18" fill="#000" />
<rect x="437" y="824" width="1" height="18" fill="#000" />
<rect x="329" y="841" width="109" height="1" fill="#000" />
<text x="16.5" y="838" font-size="12" fill="#7a7a7a" textLength="84.5" lengthAdjust="spacingAndGlyphs">EURUSD-,Daily</text>
<text x="123" y="838" font-size="12" fill="#7a7a7a" textLength="86.2" lengthAdjust="spacingAndGlyphs">AUDUSD-,Daily</text>
<text x="233" y="838" font-size="12" fill="#7a7a7a" textLength="83.5" lengthAdjust="spacingAndGlyphs">USDCHF-,Daily</text>
<text x="341" y="838" font-size="12" fill="#000" textLength="84.8" lengthAdjust="spacingAndGlyphs">USDCAD-,Daily</text>
<text x="449.5" y="838" font-size="12" fill="#7a7a7a" textLength="87.2" lengthAdjust="spacingAndGlyphs">USDCNH-,Daily</text>
<text x="560" y="838" font-size="12" fill="#7a7a7a" textLength="96.5" lengthAdjust="spacingAndGlyphs">EURCHF-,Weekly</text>
<text x="681" y="838" font-size="12" fill="#7a7a7a" textLength="99.5" lengthAdjust="spacingAndGlyphs">XAUUSD-,Weekly</text>
<text x="804" y="838" font-size="12" fill="#7a7a7a" textLength="72.8" lengthAdjust="spacingAndGlyphs">GBPUSD-,H1</text>
<text x="900" y="838" font-size="12" fill="#7a7a7a" textLength="56.4" lengthAdjust="spacingAndGlyphs">UKOil-,H1</text>
<text x="979.5" y="838" font-size="12" fill="#7a7a7a" textLength="82.1" lengthAdjust="spacingAndGlyphs">USDX-,Weekly</text>
<text x="1084.5" y="838" font-size="12" fill="#7a7a7a" textLength="96.1" lengthAdjust="spacingAndGlyphs">EURCHF-,Weekly</text>
<rect x="113" y="826" width="1" height="14" fill="#505050" />
<rect x="221" y="826" width="1" height="14" fill="#505050" />
<rect x="549" y="826" width="1" height="14" fill="#505050" />
<rect x="669" y="826" width="1" height="14" fill="#505050" />
<rect x="793" y="826" width="1" height="14" fill="#505050" />
<rect x="889" y="826" width="1" height="14" fill="#505050" />
<rect x="969" y="826" width="1" height="14" fill="#505050" />
<rect x="1073" y="826" width="1" height="14" fill="#505050" />
<rect x="1193" y="826" width="1" height="14" fill="#505050" />
<polygon points="1434.5,832 1438,829 1438,835" fill="#909090" shape-rendering="auto"/>
<polygon points="1457.5,832 1454,829 1454,835" fill="#909090" shape-rendering="auto"/>
</svg>
</body></html>
